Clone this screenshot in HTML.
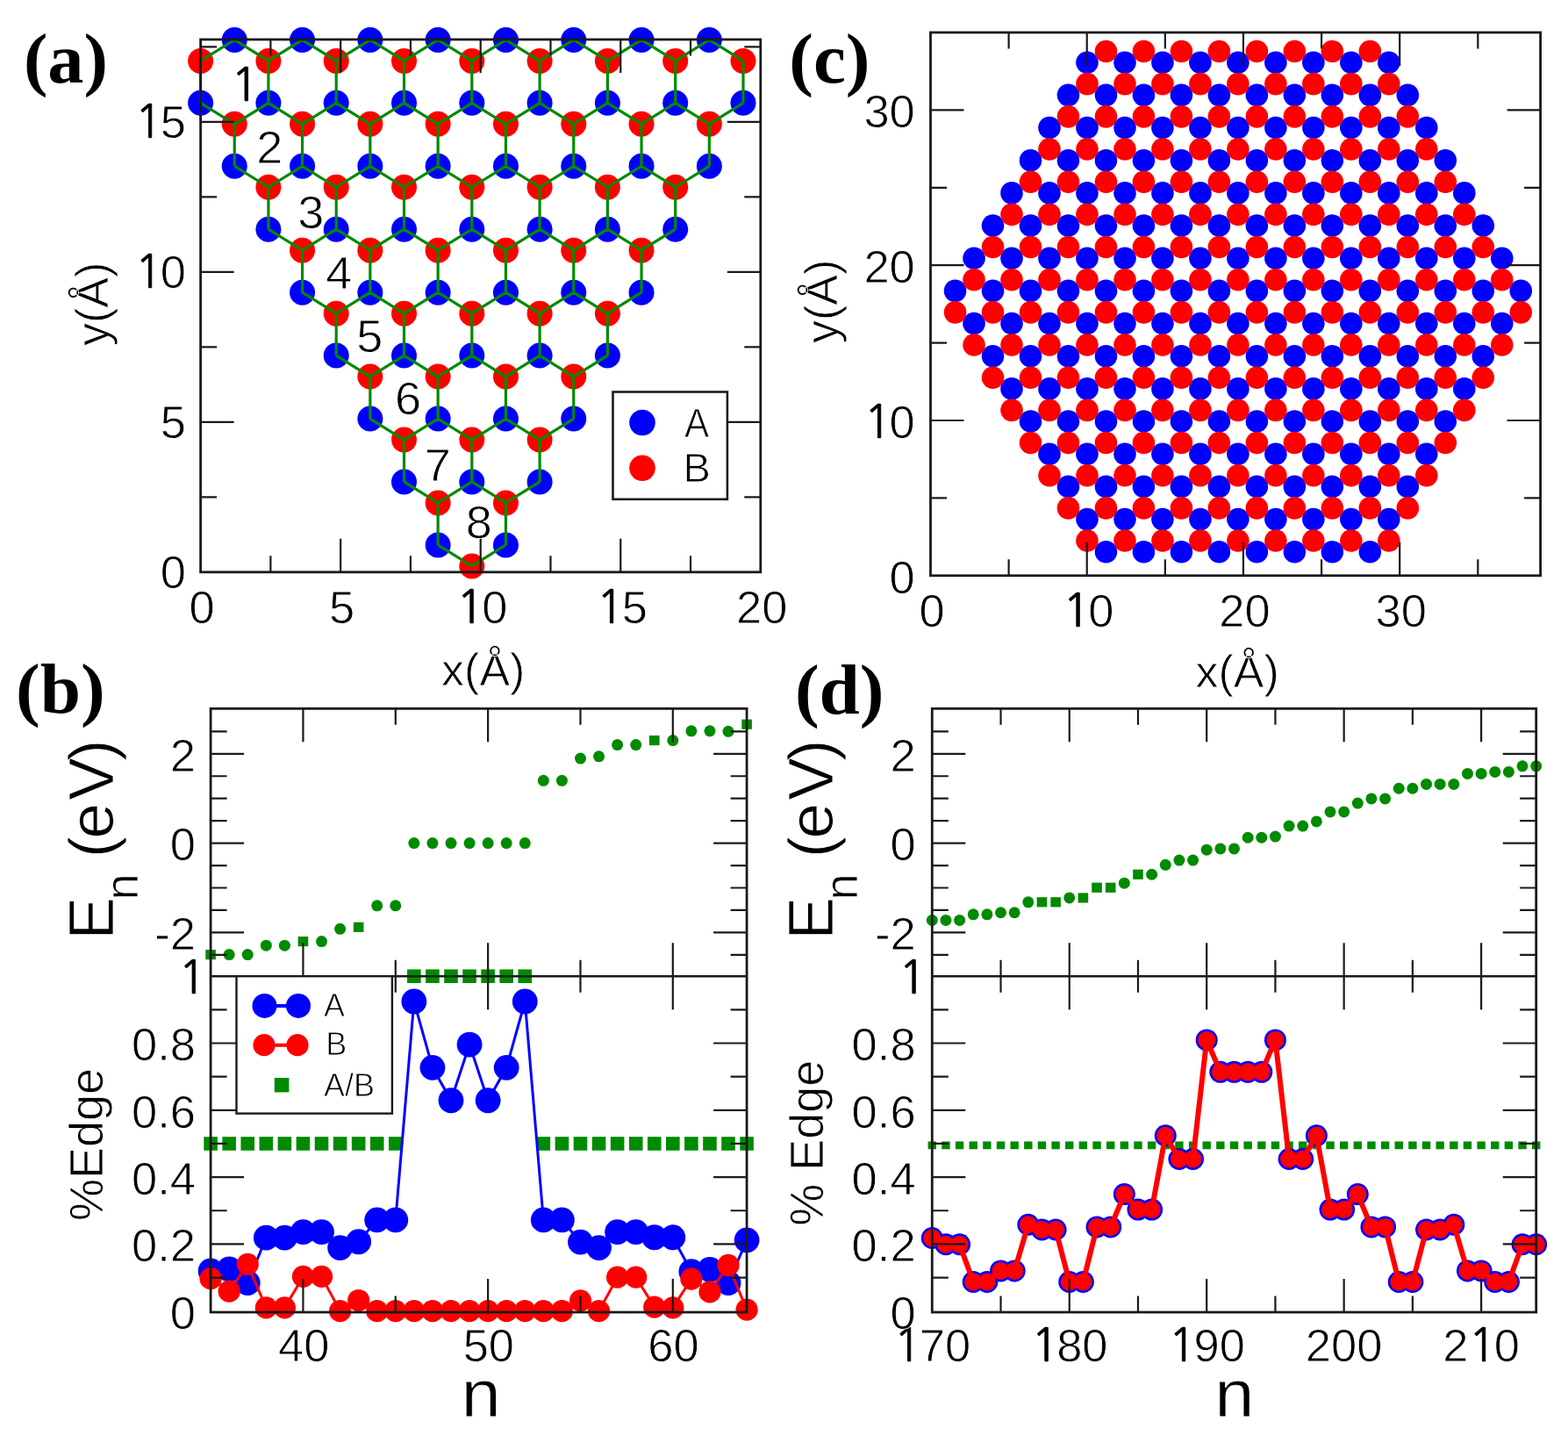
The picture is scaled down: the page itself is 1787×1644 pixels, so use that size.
<!DOCTYPE html>
<html><head><meta charset="utf-8"><title>Figure</title>
<style>html,body{margin:0;padding:0;background:#fff;}svg{display:block;}</style></head>
<body><svg width="1787" height="1644" viewBox="0 0 1787 1644">
<rect width="1787" height="1644" fill="#fff"/>
<circle cx="267.25" cy="45.4" r="14.5" fill="#0000ff"/>
<circle cx="344.55" cy="45.4" r="14.5" fill="#0000ff"/>
<circle cx="421.85" cy="45.4" r="14.5" fill="#0000ff"/>
<circle cx="499.15" cy="45.4" r="14.5" fill="#0000ff"/>
<circle cx="576.45" cy="45.4" r="14.5" fill="#0000ff"/>
<circle cx="653.75" cy="45.4" r="14.5" fill="#0000ff"/>
<circle cx="731.05" cy="45.4" r="14.5" fill="#0000ff"/>
<circle cx="808.35" cy="45.4" r="14.5" fill="#0000ff"/>
<circle cx="228.6" cy="117.34" r="14.5" fill="#0000ff"/>
<circle cx="305.9" cy="117.34" r="14.5" fill="#0000ff"/>
<circle cx="383.2" cy="117.34" r="14.5" fill="#0000ff"/>
<circle cx="460.5" cy="117.34" r="14.5" fill="#0000ff"/>
<circle cx="537.8" cy="117.34" r="14.5" fill="#0000ff"/>
<circle cx="615.1" cy="117.34" r="14.5" fill="#0000ff"/>
<circle cx="692.4" cy="117.34" r="14.5" fill="#0000ff"/>
<circle cx="769.7" cy="117.34" r="14.5" fill="#0000ff"/>
<circle cx="847" cy="117.34" r="14.5" fill="#0000ff"/>
<circle cx="267.25" cy="189.28" r="14.5" fill="#0000ff"/>
<circle cx="344.55" cy="189.28" r="14.5" fill="#0000ff"/>
<circle cx="421.85" cy="189.28" r="14.5" fill="#0000ff"/>
<circle cx="499.15" cy="189.28" r="14.5" fill="#0000ff"/>
<circle cx="576.45" cy="189.28" r="14.5" fill="#0000ff"/>
<circle cx="653.75" cy="189.28" r="14.5" fill="#0000ff"/>
<circle cx="731.05" cy="189.28" r="14.5" fill="#0000ff"/>
<circle cx="808.35" cy="189.28" r="14.5" fill="#0000ff"/>
<circle cx="305.9" cy="261.22" r="14.5" fill="#0000ff"/>
<circle cx="383.2" cy="261.22" r="14.5" fill="#0000ff"/>
<circle cx="460.5" cy="261.22" r="14.5" fill="#0000ff"/>
<circle cx="537.8" cy="261.22" r="14.5" fill="#0000ff"/>
<circle cx="615.1" cy="261.22" r="14.5" fill="#0000ff"/>
<circle cx="692.4" cy="261.22" r="14.5" fill="#0000ff"/>
<circle cx="769.7" cy="261.22" r="14.5" fill="#0000ff"/>
<circle cx="344.55" cy="333.16" r="14.5" fill="#0000ff"/>
<circle cx="421.85" cy="333.16" r="14.5" fill="#0000ff"/>
<circle cx="499.15" cy="333.16" r="14.5" fill="#0000ff"/>
<circle cx="576.45" cy="333.16" r="14.5" fill="#0000ff"/>
<circle cx="653.75" cy="333.16" r="14.5" fill="#0000ff"/>
<circle cx="731.05" cy="333.16" r="14.5" fill="#0000ff"/>
<circle cx="383.2" cy="405.1" r="14.5" fill="#0000ff"/>
<circle cx="460.5" cy="405.1" r="14.5" fill="#0000ff"/>
<circle cx="537.8" cy="405.1" r="14.5" fill="#0000ff"/>
<circle cx="615.1" cy="405.1" r="14.5" fill="#0000ff"/>
<circle cx="692.4" cy="405.1" r="14.5" fill="#0000ff"/>
<circle cx="421.85" cy="477.04" r="14.5" fill="#0000ff"/>
<circle cx="499.15" cy="477.04" r="14.5" fill="#0000ff"/>
<circle cx="576.45" cy="477.04" r="14.5" fill="#0000ff"/>
<circle cx="653.75" cy="477.04" r="14.5" fill="#0000ff"/>
<circle cx="460.5" cy="548.98" r="14.5" fill="#0000ff"/>
<circle cx="537.8" cy="548.98" r="14.5" fill="#0000ff"/>
<circle cx="615.1" cy="548.98" r="14.5" fill="#0000ff"/>
<circle cx="499.15" cy="620.92" r="14.5" fill="#0000ff"/>
<circle cx="576.45" cy="620.92" r="14.5" fill="#0000ff"/>
<circle cx="228.6" cy="69.38" r="14.5" fill="#ff0000"/>
<circle cx="305.9" cy="69.38" r="14.5" fill="#ff0000"/>
<circle cx="383.2" cy="69.38" r="14.5" fill="#ff0000"/>
<circle cx="460.5" cy="69.38" r="14.5" fill="#ff0000"/>
<circle cx="537.8" cy="69.38" r="14.5" fill="#ff0000"/>
<circle cx="615.1" cy="69.38" r="14.5" fill="#ff0000"/>
<circle cx="692.4" cy="69.38" r="14.5" fill="#ff0000"/>
<circle cx="769.7" cy="69.38" r="14.5" fill="#ff0000"/>
<circle cx="847" cy="69.38" r="14.5" fill="#ff0000"/>
<circle cx="267.25" cy="141.32" r="14.5" fill="#ff0000"/>
<circle cx="344.55" cy="141.32" r="14.5" fill="#ff0000"/>
<circle cx="421.85" cy="141.32" r="14.5" fill="#ff0000"/>
<circle cx="499.15" cy="141.32" r="14.5" fill="#ff0000"/>
<circle cx="576.45" cy="141.32" r="14.5" fill="#ff0000"/>
<circle cx="653.75" cy="141.32" r="14.5" fill="#ff0000"/>
<circle cx="731.05" cy="141.32" r="14.5" fill="#ff0000"/>
<circle cx="808.35" cy="141.32" r="14.5" fill="#ff0000"/>
<circle cx="305.9" cy="213.26" r="14.5" fill="#ff0000"/>
<circle cx="383.2" cy="213.26" r="14.5" fill="#ff0000"/>
<circle cx="460.5" cy="213.26" r="14.5" fill="#ff0000"/>
<circle cx="537.8" cy="213.26" r="14.5" fill="#ff0000"/>
<circle cx="615.1" cy="213.26" r="14.5" fill="#ff0000"/>
<circle cx="692.4" cy="213.26" r="14.5" fill="#ff0000"/>
<circle cx="769.7" cy="213.26" r="14.5" fill="#ff0000"/>
<circle cx="344.55" cy="285.2" r="14.5" fill="#ff0000"/>
<circle cx="421.85" cy="285.2" r="14.5" fill="#ff0000"/>
<circle cx="499.15" cy="285.2" r="14.5" fill="#ff0000"/>
<circle cx="576.45" cy="285.2" r="14.5" fill="#ff0000"/>
<circle cx="653.75" cy="285.2" r="14.5" fill="#ff0000"/>
<circle cx="731.05" cy="285.2" r="14.5" fill="#ff0000"/>
<circle cx="383.2" cy="357.14" r="14.5" fill="#ff0000"/>
<circle cx="460.5" cy="357.14" r="14.5" fill="#ff0000"/>
<circle cx="537.8" cy="357.14" r="14.5" fill="#ff0000"/>
<circle cx="615.1" cy="357.14" r="14.5" fill="#ff0000"/>
<circle cx="692.4" cy="357.14" r="14.5" fill="#ff0000"/>
<circle cx="421.85" cy="429.08" r="14.5" fill="#ff0000"/>
<circle cx="499.15" cy="429.08" r="14.5" fill="#ff0000"/>
<circle cx="576.45" cy="429.08" r="14.5" fill="#ff0000"/>
<circle cx="653.75" cy="429.08" r="14.5" fill="#ff0000"/>
<circle cx="460.5" cy="501.02" r="14.5" fill="#ff0000"/>
<circle cx="537.8" cy="501.02" r="14.5" fill="#ff0000"/>
<circle cx="615.1" cy="501.02" r="14.5" fill="#ff0000"/>
<circle cx="499.15" cy="572.96" r="14.5" fill="#ff0000"/>
<circle cx="576.45" cy="572.96" r="14.5" fill="#ff0000"/>
<circle cx="537.8" cy="644.9" r="14.5" fill="#ff0000"/>
<path d="M267.25 45.4L228.6 69.38M267.25 45.4L305.9 69.38M344.55 45.4L305.9 69.38M344.55 45.4L383.2 69.38M421.85 45.4L383.2 69.38M421.85 45.4L460.5 69.38M499.15 45.4L460.5 69.38M499.15 45.4L537.8 69.38M576.45 45.4L537.8 69.38M576.45 45.4L615.1 69.38M653.75 45.4L615.1 69.38M653.75 45.4L692.4 69.38M731.05 45.4L692.4 69.38M731.05 45.4L769.7 69.38M808.35 45.4L769.7 69.38M808.35 45.4L847 69.38M228.6 69.38V117.34M305.9 69.38V117.34M383.2 69.38V117.34M460.5 69.38V117.34M537.8 69.38V117.34M615.1 69.38V117.34M692.4 69.38V117.34M769.7 69.38V117.34M847 69.38V117.34M228.6 117.34L267.25 141.32M305.9 117.34L267.25 141.32M305.9 117.34L344.55 141.32M383.2 117.34L344.55 141.32M383.2 117.34L421.85 141.32M460.5 117.34L421.85 141.32M460.5 117.34L499.15 141.32M537.8 117.34L499.15 141.32M537.8 117.34L576.45 141.32M615.1 117.34L576.45 141.32M615.1 117.34L653.75 141.32M692.4 117.34L653.75 141.32M692.4 117.34L731.05 141.32M769.7 117.34L731.05 141.32M769.7 117.34L808.35 141.32M847 117.34L808.35 141.32M267.25 141.32V189.28M344.55 141.32V189.28M421.85 141.32V189.28M499.15 141.32V189.28M576.45 141.32V189.28M653.75 141.32V189.28M731.05 141.32V189.28M808.35 141.32V189.28M267.25 189.28L305.9 213.26M344.55 189.28L305.9 213.26M344.55 189.28L383.2 213.26M421.85 189.28L383.2 213.26M421.85 189.28L460.5 213.26M499.15 189.28L460.5 213.26M499.15 189.28L537.8 213.26M576.45 189.28L537.8 213.26M576.45 189.28L615.1 213.26M653.75 189.28L615.1 213.26M653.75 189.28L692.4 213.26M731.05 189.28L692.4 213.26M731.05 189.28L769.7 213.26M808.35 189.28L769.7 213.26M305.9 213.26V261.22M383.2 213.26V261.22M460.5 213.26V261.22M537.8 213.26V261.22M615.1 213.26V261.22M692.4 213.26V261.22M769.7 213.26V261.22M305.9 261.22L344.55 285.2M383.2 261.22L344.55 285.2M383.2 261.22L421.85 285.2M460.5 261.22L421.85 285.2M460.5 261.22L499.15 285.2M537.8 261.22L499.15 285.2M537.8 261.22L576.45 285.2M615.1 261.22L576.45 285.2M615.1 261.22L653.75 285.2M692.4 261.22L653.75 285.2M692.4 261.22L731.05 285.2M769.7 261.22L731.05 285.2M344.55 285.2V333.16M421.85 285.2V333.16M499.15 285.2V333.16M576.45 285.2V333.16M653.75 285.2V333.16M731.05 285.2V333.16M344.55 333.16L383.2 357.14M421.85 333.16L383.2 357.14M421.85 333.16L460.5 357.14M499.15 333.16L460.5 357.14M499.15 333.16L537.8 357.14M576.45 333.16L537.8 357.14M576.45 333.16L615.1 357.14M653.75 333.16L615.1 357.14M653.75 333.16L692.4 357.14M731.05 333.16L692.4 357.14M383.2 357.14V405.1M460.5 357.14V405.1M537.8 357.14V405.1M615.1 357.14V405.1M692.4 357.14V405.1M383.2 405.1L421.85 429.08M460.5 405.1L421.85 429.08M460.5 405.1L499.15 429.08M537.8 405.1L499.15 429.08M537.8 405.1L576.45 429.08M615.1 405.1L576.45 429.08M615.1 405.1L653.75 429.08M692.4 405.1L653.75 429.08M421.85 429.08V477.04M499.15 429.08V477.04M576.45 429.08V477.04M653.75 429.08V477.04M421.85 477.04L460.5 501.02M499.15 477.04L460.5 501.02M499.15 477.04L537.8 501.02M576.45 477.04L537.8 501.02M576.45 477.04L615.1 501.02M653.75 477.04L615.1 501.02M460.5 501.02V548.98M537.8 501.02V548.98M615.1 501.02V548.98M460.5 548.98L499.15 572.96M537.8 548.98L499.15 572.96M537.8 548.98L576.45 572.96M615.1 548.98L576.45 572.96M499.15 572.96V620.92M576.45 572.96V620.92M499.15 620.92L537.8 644.9M576.45 620.92L537.8 644.9" stroke="#008b00" stroke-width="3.2" fill="none" stroke-linejoin="round"/>
<text transform="translate(277.7 114.9) scale(1.04 1)" font-size="52" text-anchor="middle" font-family="'Liberation Sans', Arial, Helvetica, sans-serif" stroke="#fff" stroke-width="0.8" ><tspan font-family="NanumGothic, 'Liberation Sans', sans-serif" letter-spacing="-2.6" stroke="#000" stroke-width="0.7">1</tspan></text>
<text transform="translate(307.2 186.4) scale(1.04 1)" font-size="52" text-anchor="middle" font-family="'Liberation Sans', Arial, Helvetica, sans-serif" stroke="#fff" stroke-width="0.8" >2</text>
<text transform="translate(354.3 260.2) scale(1.04 1)" font-size="52" text-anchor="middle" font-family="'Liberation Sans', Arial, Helvetica, sans-serif" stroke="#fff" stroke-width="0.8" >3</text>
<text transform="translate(386.2 329.3) scale(1.04 1)" font-size="52" text-anchor="middle" font-family="'Liberation Sans', Arial, Helvetica, sans-serif" stroke="#fff" stroke-width="0.8" >4</text>
<text transform="translate(421.2 401.2) scale(1.04 1)" font-size="52" text-anchor="middle" font-family="'Liberation Sans', Arial, Helvetica, sans-serif" stroke="#fff" stroke-width="0.8" >5</text>
<text transform="translate(465 471.8) scale(1.04 1)" font-size="52" text-anchor="middle" font-family="'Liberation Sans', Arial, Helvetica, sans-serif" stroke="#fff" stroke-width="0.8" >6</text>
<text transform="translate(498.8 547.9) scale(1.04 1)" font-size="52" text-anchor="middle" font-family="'Liberation Sans', Arial, Helvetica, sans-serif" stroke="#fff" stroke-width="0.8" >7</text>
<text transform="translate(545.9 613.4) scale(1.04 1)" font-size="52" text-anchor="middle" font-family="'Liberation Sans', Arial, Helvetica, sans-serif" stroke="#fff" stroke-width="0.8" >8</text>
<rect x="228.6" y="45" width="638.2" height="606.8" stroke="#1a1a1a" stroke-width="2.8" fill="none"/>
<path d="M308.38 651.8V633.3M308.38 45V63.5M388.15 651.8V613.8M388.15 45V83M467.92 651.8V633.3M467.92 45V63.5M547.7 651.8V613.8M547.7 45V83M627.47 651.8V633.3M627.47 45V63.5M707.25 651.8V613.8M707.25 45V83M787.02 651.8V633.3M787.02 45V63.5" stroke="#1a1a1a" stroke-width="2.2"/>
<path d="M228.6 566.3H247.1M866.8 566.3H848.3M228.6 480.8H266.6M866.8 480.8H828.8M228.6 395.3H247.1M866.8 395.3H848.3M228.6 309.8H266.6M866.8 309.8H828.8M228.6 224.3H247.1M866.8 224.3H848.3M228.6 138.8H266.6M866.8 138.8H828.8M228.6 53.3H247.1M866.8 53.3H848.3" stroke="#1a1a1a" stroke-width="2.2"/>
<rect x="698.5" y="446.5" width="130.4" height="122.3" fill="#fff" stroke="#1a1a1a" stroke-width="2.6"/>
<circle cx="732" cy="481.5" r="14.8" fill="#0000ff"/>
<circle cx="732" cy="533.3" r="14.8" fill="#ff0000"/>
<text transform="translate(780 497.5) scale(0.9 1)" font-size="47" text-anchor="start" font-family="'Liberation Sans', Arial, Helvetica, sans-serif" stroke="#fff" stroke-width="0.8" >A</text>
<text transform="translate(778.5 549)" font-size="47" text-anchor="start" font-family="'Liberation Sans', Arial, Helvetica, sans-serif" stroke="#fff" stroke-width="0.8" >B</text>
<text transform="translate(230.1 709.5)" font-size="52.5" text-anchor="middle" font-family="'Liberation Sans', Arial, Helvetica, sans-serif" stroke="#fff" stroke-width="0.8" >0</text>
<text transform="translate(389.65 709.5)" font-size="52.5" text-anchor="middle" font-family="'Liberation Sans', Arial, Helvetica, sans-serif" stroke="#fff" stroke-width="0.8" >5</text>
<text transform="translate(549.2 709.5)" font-size="52.5" text-anchor="middle" font-family="'Liberation Sans', Arial, Helvetica, sans-serif" stroke="#fff" stroke-width="0.8" ><tspan font-family="NanumGothic, 'Liberation Sans', sans-serif" letter-spacing="-2.62" stroke="#000" stroke-width="0.7">1</tspan>0</text>
<text transform="translate(708.75 709.5)" font-size="52.5" text-anchor="middle" font-family="'Liberation Sans', Arial, Helvetica, sans-serif" stroke="#fff" stroke-width="0.8" ><tspan font-family="NanumGothic, 'Liberation Sans', sans-serif" letter-spacing="-2.62" stroke="#000" stroke-width="0.7">1</tspan>5</text>
<text transform="translate(868.3 709.5)" font-size="52.5" text-anchor="middle" font-family="'Liberation Sans', Arial, Helvetica, sans-serif" stroke="#fff" stroke-width="0.8" >20</text>
<text transform="translate(212 670.1)" font-size="52.5" text-anchor="end" font-family="'Liberation Sans', Arial, Helvetica, sans-serif" stroke="#fff" stroke-width="0.8" >0</text>
<text transform="translate(212 499.1)" font-size="52.5" text-anchor="end" font-family="'Liberation Sans', Arial, Helvetica, sans-serif" stroke="#fff" stroke-width="0.8" >5</text>
<text transform="translate(212 328.1)" font-size="52.5" text-anchor="end" font-family="'Liberation Sans', Arial, Helvetica, sans-serif" stroke="#fff" stroke-width="0.8" ><tspan font-family="NanumGothic, 'Liberation Sans', sans-serif" letter-spacing="-2.62" stroke="#000" stroke-width="0.7">1</tspan>0</text>
<text transform="translate(212 157.1)" font-size="52.5" text-anchor="end" font-family="'Liberation Sans', Arial, Helvetica, sans-serif" stroke="#fff" stroke-width="0.8" ><tspan font-family="NanumGothic, 'Liberation Sans', sans-serif" letter-spacing="-2.62" stroke="#000" stroke-width="0.7">1</tspan>5</text>
<text transform="translate(503.1 780.9)" font-size="52" text-anchor="start" font-family="'Liberation Sans', Arial, Helvetica, sans-serif" stroke="#fff" stroke-width="0.8" >x(Å)</text>
<text transform="translate(123.1 394) rotate(-90)" font-size="52" text-anchor="start" font-family="'Liberation Sans', Arial, Helvetica, sans-serif" stroke="#fff" stroke-width="0.8" >y(Å)</text>
<circle cx="1238.98" cy="71.2" r="12.8" fill="#0000ff"/>
<circle cx="1281.96" cy="71.2" r="12.8" fill="#0000ff"/>
<circle cx="1324.94" cy="71.2" r="12.8" fill="#0000ff"/>
<circle cx="1367.92" cy="71.2" r="12.8" fill="#0000ff"/>
<circle cx="1410.9" cy="71.2" r="12.8" fill="#0000ff"/>
<circle cx="1453.88" cy="71.2" r="12.8" fill="#0000ff"/>
<circle cx="1496.86" cy="71.2" r="12.8" fill="#0000ff"/>
<circle cx="1539.84" cy="71.2" r="12.8" fill="#0000ff"/>
<circle cx="1582.82" cy="71.2" r="12.8" fill="#0000ff"/>
<circle cx="1217.49" cy="108.37" r="12.8" fill="#0000ff"/>
<circle cx="1260.47" cy="108.37" r="12.8" fill="#0000ff"/>
<circle cx="1303.45" cy="108.37" r="12.8" fill="#0000ff"/>
<circle cx="1346.43" cy="108.37" r="12.8" fill="#0000ff"/>
<circle cx="1389.41" cy="108.37" r="12.8" fill="#0000ff"/>
<circle cx="1432.39" cy="108.37" r="12.8" fill="#0000ff"/>
<circle cx="1475.37" cy="108.37" r="12.8" fill="#0000ff"/>
<circle cx="1518.35" cy="108.37" r="12.8" fill="#0000ff"/>
<circle cx="1561.33" cy="108.37" r="12.8" fill="#0000ff"/>
<circle cx="1604.31" cy="108.37" r="12.8" fill="#0000ff"/>
<circle cx="1196" cy="145.54" r="12.8" fill="#0000ff"/>
<circle cx="1238.98" cy="145.54" r="12.8" fill="#0000ff"/>
<circle cx="1281.96" cy="145.54" r="12.8" fill="#0000ff"/>
<circle cx="1324.94" cy="145.54" r="12.8" fill="#0000ff"/>
<circle cx="1367.92" cy="145.54" r="12.8" fill="#0000ff"/>
<circle cx="1410.9" cy="145.54" r="12.8" fill="#0000ff"/>
<circle cx="1453.88" cy="145.54" r="12.8" fill="#0000ff"/>
<circle cx="1496.86" cy="145.54" r="12.8" fill="#0000ff"/>
<circle cx="1539.84" cy="145.54" r="12.8" fill="#0000ff"/>
<circle cx="1582.82" cy="145.54" r="12.8" fill="#0000ff"/>
<circle cx="1625.8" cy="145.54" r="12.8" fill="#0000ff"/>
<circle cx="1174.51" cy="182.71" r="12.8" fill="#0000ff"/>
<circle cx="1217.49" cy="182.71" r="12.8" fill="#0000ff"/>
<circle cx="1260.47" cy="182.71" r="12.8" fill="#0000ff"/>
<circle cx="1303.45" cy="182.71" r="12.8" fill="#0000ff"/>
<circle cx="1346.43" cy="182.71" r="12.8" fill="#0000ff"/>
<circle cx="1389.41" cy="182.71" r="12.8" fill="#0000ff"/>
<circle cx="1432.39" cy="182.71" r="12.8" fill="#0000ff"/>
<circle cx="1475.37" cy="182.71" r="12.8" fill="#0000ff"/>
<circle cx="1518.35" cy="182.71" r="12.8" fill="#0000ff"/>
<circle cx="1561.33" cy="182.71" r="12.8" fill="#0000ff"/>
<circle cx="1604.31" cy="182.71" r="12.8" fill="#0000ff"/>
<circle cx="1647.29" cy="182.71" r="12.8" fill="#0000ff"/>
<circle cx="1153.02" cy="219.88" r="12.8" fill="#0000ff"/>
<circle cx="1196" cy="219.88" r="12.8" fill="#0000ff"/>
<circle cx="1238.98" cy="219.88" r="12.8" fill="#0000ff"/>
<circle cx="1281.96" cy="219.88" r="12.8" fill="#0000ff"/>
<circle cx="1324.94" cy="219.88" r="12.8" fill="#0000ff"/>
<circle cx="1367.92" cy="219.88" r="12.8" fill="#0000ff"/>
<circle cx="1410.9" cy="219.88" r="12.8" fill="#0000ff"/>
<circle cx="1453.88" cy="219.88" r="12.8" fill="#0000ff"/>
<circle cx="1496.86" cy="219.88" r="12.8" fill="#0000ff"/>
<circle cx="1539.84" cy="219.88" r="12.8" fill="#0000ff"/>
<circle cx="1582.82" cy="219.88" r="12.8" fill="#0000ff"/>
<circle cx="1625.8" cy="219.88" r="12.8" fill="#0000ff"/>
<circle cx="1668.78" cy="219.88" r="12.8" fill="#0000ff"/>
<circle cx="1131.53" cy="257.05" r="12.8" fill="#0000ff"/>
<circle cx="1174.51" cy="257.05" r="12.8" fill="#0000ff"/>
<circle cx="1217.49" cy="257.05" r="12.8" fill="#0000ff"/>
<circle cx="1260.47" cy="257.05" r="12.8" fill="#0000ff"/>
<circle cx="1303.45" cy="257.05" r="12.8" fill="#0000ff"/>
<circle cx="1346.43" cy="257.05" r="12.8" fill="#0000ff"/>
<circle cx="1389.41" cy="257.05" r="12.8" fill="#0000ff"/>
<circle cx="1432.39" cy="257.05" r="12.8" fill="#0000ff"/>
<circle cx="1475.37" cy="257.05" r="12.8" fill="#0000ff"/>
<circle cx="1518.35" cy="257.05" r="12.8" fill="#0000ff"/>
<circle cx="1561.33" cy="257.05" r="12.8" fill="#0000ff"/>
<circle cx="1604.31" cy="257.05" r="12.8" fill="#0000ff"/>
<circle cx="1647.29" cy="257.05" r="12.8" fill="#0000ff"/>
<circle cx="1690.27" cy="257.05" r="12.8" fill="#0000ff"/>
<circle cx="1110.04" cy="294.22" r="12.8" fill="#0000ff"/>
<circle cx="1153.02" cy="294.22" r="12.8" fill="#0000ff"/>
<circle cx="1196" cy="294.22" r="12.8" fill="#0000ff"/>
<circle cx="1238.98" cy="294.22" r="12.8" fill="#0000ff"/>
<circle cx="1281.96" cy="294.22" r="12.8" fill="#0000ff"/>
<circle cx="1324.94" cy="294.22" r="12.8" fill="#0000ff"/>
<circle cx="1367.92" cy="294.22" r="12.8" fill="#0000ff"/>
<circle cx="1410.9" cy="294.22" r="12.8" fill="#0000ff"/>
<circle cx="1453.88" cy="294.22" r="12.8" fill="#0000ff"/>
<circle cx="1496.86" cy="294.22" r="12.8" fill="#0000ff"/>
<circle cx="1539.84" cy="294.22" r="12.8" fill="#0000ff"/>
<circle cx="1582.82" cy="294.22" r="12.8" fill="#0000ff"/>
<circle cx="1625.8" cy="294.22" r="12.8" fill="#0000ff"/>
<circle cx="1668.78" cy="294.22" r="12.8" fill="#0000ff"/>
<circle cx="1711.76" cy="294.22" r="12.8" fill="#0000ff"/>
<circle cx="1088.55" cy="331.39" r="12.8" fill="#0000ff"/>
<circle cx="1131.53" cy="331.39" r="12.8" fill="#0000ff"/>
<circle cx="1174.51" cy="331.39" r="12.8" fill="#0000ff"/>
<circle cx="1217.49" cy="331.39" r="12.8" fill="#0000ff"/>
<circle cx="1260.47" cy="331.39" r="12.8" fill="#0000ff"/>
<circle cx="1303.45" cy="331.39" r="12.8" fill="#0000ff"/>
<circle cx="1346.43" cy="331.39" r="12.8" fill="#0000ff"/>
<circle cx="1389.41" cy="331.39" r="12.8" fill="#0000ff"/>
<circle cx="1432.39" cy="331.39" r="12.8" fill="#0000ff"/>
<circle cx="1475.37" cy="331.39" r="12.8" fill="#0000ff"/>
<circle cx="1518.35" cy="331.39" r="12.8" fill="#0000ff"/>
<circle cx="1561.33" cy="331.39" r="12.8" fill="#0000ff"/>
<circle cx="1604.31" cy="331.39" r="12.8" fill="#0000ff"/>
<circle cx="1647.29" cy="331.39" r="12.8" fill="#0000ff"/>
<circle cx="1690.27" cy="331.39" r="12.8" fill="#0000ff"/>
<circle cx="1733.25" cy="331.39" r="12.8" fill="#0000ff"/>
<circle cx="1110.04" cy="368.56" r="12.8" fill="#0000ff"/>
<circle cx="1153.02" cy="368.56" r="12.8" fill="#0000ff"/>
<circle cx="1196" cy="368.56" r="12.8" fill="#0000ff"/>
<circle cx="1238.98" cy="368.56" r="12.8" fill="#0000ff"/>
<circle cx="1281.96" cy="368.56" r="12.8" fill="#0000ff"/>
<circle cx="1324.94" cy="368.56" r="12.8" fill="#0000ff"/>
<circle cx="1367.92" cy="368.56" r="12.8" fill="#0000ff"/>
<circle cx="1410.9" cy="368.56" r="12.8" fill="#0000ff"/>
<circle cx="1453.88" cy="368.56" r="12.8" fill="#0000ff"/>
<circle cx="1496.86" cy="368.56" r="12.8" fill="#0000ff"/>
<circle cx="1539.84" cy="368.56" r="12.8" fill="#0000ff"/>
<circle cx="1582.82" cy="368.56" r="12.8" fill="#0000ff"/>
<circle cx="1625.8" cy="368.56" r="12.8" fill="#0000ff"/>
<circle cx="1668.78" cy="368.56" r="12.8" fill="#0000ff"/>
<circle cx="1711.76" cy="368.56" r="12.8" fill="#0000ff"/>
<circle cx="1131.53" cy="405.73" r="12.8" fill="#0000ff"/>
<circle cx="1174.51" cy="405.73" r="12.8" fill="#0000ff"/>
<circle cx="1217.49" cy="405.73" r="12.8" fill="#0000ff"/>
<circle cx="1260.47" cy="405.73" r="12.8" fill="#0000ff"/>
<circle cx="1303.45" cy="405.73" r="12.8" fill="#0000ff"/>
<circle cx="1346.43" cy="405.73" r="12.8" fill="#0000ff"/>
<circle cx="1389.41" cy="405.73" r="12.8" fill="#0000ff"/>
<circle cx="1432.39" cy="405.73" r="12.8" fill="#0000ff"/>
<circle cx="1475.37" cy="405.73" r="12.8" fill="#0000ff"/>
<circle cx="1518.35" cy="405.73" r="12.8" fill="#0000ff"/>
<circle cx="1561.33" cy="405.73" r="12.8" fill="#0000ff"/>
<circle cx="1604.31" cy="405.73" r="12.8" fill="#0000ff"/>
<circle cx="1647.29" cy="405.73" r="12.8" fill="#0000ff"/>
<circle cx="1690.27" cy="405.73" r="12.8" fill="#0000ff"/>
<circle cx="1153.02" cy="442.9" r="12.8" fill="#0000ff"/>
<circle cx="1196" cy="442.9" r="12.8" fill="#0000ff"/>
<circle cx="1238.98" cy="442.9" r="12.8" fill="#0000ff"/>
<circle cx="1281.96" cy="442.9" r="12.8" fill="#0000ff"/>
<circle cx="1324.94" cy="442.9" r="12.8" fill="#0000ff"/>
<circle cx="1367.92" cy="442.9" r="12.8" fill="#0000ff"/>
<circle cx="1410.9" cy="442.9" r="12.8" fill="#0000ff"/>
<circle cx="1453.88" cy="442.9" r="12.8" fill="#0000ff"/>
<circle cx="1496.86" cy="442.9" r="12.8" fill="#0000ff"/>
<circle cx="1539.84" cy="442.9" r="12.8" fill="#0000ff"/>
<circle cx="1582.82" cy="442.9" r="12.8" fill="#0000ff"/>
<circle cx="1625.8" cy="442.9" r="12.8" fill="#0000ff"/>
<circle cx="1668.78" cy="442.9" r="12.8" fill="#0000ff"/>
<circle cx="1174.51" cy="480.07" r="12.8" fill="#0000ff"/>
<circle cx="1217.49" cy="480.07" r="12.8" fill="#0000ff"/>
<circle cx="1260.47" cy="480.07" r="12.8" fill="#0000ff"/>
<circle cx="1303.45" cy="480.07" r="12.8" fill="#0000ff"/>
<circle cx="1346.43" cy="480.07" r="12.8" fill="#0000ff"/>
<circle cx="1389.41" cy="480.07" r="12.8" fill="#0000ff"/>
<circle cx="1432.39" cy="480.07" r="12.8" fill="#0000ff"/>
<circle cx="1475.37" cy="480.07" r="12.8" fill="#0000ff"/>
<circle cx="1518.35" cy="480.07" r="12.8" fill="#0000ff"/>
<circle cx="1561.33" cy="480.07" r="12.8" fill="#0000ff"/>
<circle cx="1604.31" cy="480.07" r="12.8" fill="#0000ff"/>
<circle cx="1647.29" cy="480.07" r="12.8" fill="#0000ff"/>
<circle cx="1196" cy="517.24" r="12.8" fill="#0000ff"/>
<circle cx="1238.98" cy="517.24" r="12.8" fill="#0000ff"/>
<circle cx="1281.96" cy="517.24" r="12.8" fill="#0000ff"/>
<circle cx="1324.94" cy="517.24" r="12.8" fill="#0000ff"/>
<circle cx="1367.92" cy="517.24" r="12.8" fill="#0000ff"/>
<circle cx="1410.9" cy="517.24" r="12.8" fill="#0000ff"/>
<circle cx="1453.88" cy="517.24" r="12.8" fill="#0000ff"/>
<circle cx="1496.86" cy="517.24" r="12.8" fill="#0000ff"/>
<circle cx="1539.84" cy="517.24" r="12.8" fill="#0000ff"/>
<circle cx="1582.82" cy="517.24" r="12.8" fill="#0000ff"/>
<circle cx="1625.8" cy="517.24" r="12.8" fill="#0000ff"/>
<circle cx="1217.49" cy="554.41" r="12.8" fill="#0000ff"/>
<circle cx="1260.47" cy="554.41" r="12.8" fill="#0000ff"/>
<circle cx="1303.45" cy="554.41" r="12.8" fill="#0000ff"/>
<circle cx="1346.43" cy="554.41" r="12.8" fill="#0000ff"/>
<circle cx="1389.41" cy="554.41" r="12.8" fill="#0000ff"/>
<circle cx="1432.39" cy="554.41" r="12.8" fill="#0000ff"/>
<circle cx="1475.37" cy="554.41" r="12.8" fill="#0000ff"/>
<circle cx="1518.35" cy="554.41" r="12.8" fill="#0000ff"/>
<circle cx="1561.33" cy="554.41" r="12.8" fill="#0000ff"/>
<circle cx="1604.31" cy="554.41" r="12.8" fill="#0000ff"/>
<circle cx="1238.98" cy="591.58" r="12.8" fill="#0000ff"/>
<circle cx="1281.96" cy="591.58" r="12.8" fill="#0000ff"/>
<circle cx="1324.94" cy="591.58" r="12.8" fill="#0000ff"/>
<circle cx="1367.92" cy="591.58" r="12.8" fill="#0000ff"/>
<circle cx="1410.9" cy="591.58" r="12.8" fill="#0000ff"/>
<circle cx="1453.88" cy="591.58" r="12.8" fill="#0000ff"/>
<circle cx="1496.86" cy="591.58" r="12.8" fill="#0000ff"/>
<circle cx="1539.84" cy="591.58" r="12.8" fill="#0000ff"/>
<circle cx="1582.82" cy="591.58" r="12.8" fill="#0000ff"/>
<circle cx="1260.47" cy="628.75" r="12.8" fill="#0000ff"/>
<circle cx="1303.45" cy="628.75" r="12.8" fill="#0000ff"/>
<circle cx="1346.43" cy="628.75" r="12.8" fill="#0000ff"/>
<circle cx="1389.41" cy="628.75" r="12.8" fill="#0000ff"/>
<circle cx="1432.39" cy="628.75" r="12.8" fill="#0000ff"/>
<circle cx="1475.37" cy="628.75" r="12.8" fill="#0000ff"/>
<circle cx="1518.35" cy="628.75" r="12.8" fill="#0000ff"/>
<circle cx="1561.33" cy="628.75" r="12.8" fill="#0000ff"/>
<circle cx="1260.47" cy="58.5" r="12.8" fill="#ff0000"/>
<circle cx="1303.45" cy="58.5" r="12.8" fill="#ff0000"/>
<circle cx="1346.43" cy="58.5" r="12.8" fill="#ff0000"/>
<circle cx="1389.41" cy="58.5" r="12.8" fill="#ff0000"/>
<circle cx="1432.39" cy="58.5" r="12.8" fill="#ff0000"/>
<circle cx="1475.37" cy="58.5" r="12.8" fill="#ff0000"/>
<circle cx="1518.35" cy="58.5" r="12.8" fill="#ff0000"/>
<circle cx="1561.33" cy="58.5" r="12.8" fill="#ff0000"/>
<circle cx="1238.98" cy="95.67" r="12.8" fill="#ff0000"/>
<circle cx="1281.96" cy="95.67" r="12.8" fill="#ff0000"/>
<circle cx="1324.94" cy="95.67" r="12.8" fill="#ff0000"/>
<circle cx="1367.92" cy="95.67" r="12.8" fill="#ff0000"/>
<circle cx="1410.9" cy="95.67" r="12.8" fill="#ff0000"/>
<circle cx="1453.88" cy="95.67" r="12.8" fill="#ff0000"/>
<circle cx="1496.86" cy="95.67" r="12.8" fill="#ff0000"/>
<circle cx="1539.84" cy="95.67" r="12.8" fill="#ff0000"/>
<circle cx="1582.82" cy="95.67" r="12.8" fill="#ff0000"/>
<circle cx="1217.49" cy="132.84" r="12.8" fill="#ff0000"/>
<circle cx="1260.47" cy="132.84" r="12.8" fill="#ff0000"/>
<circle cx="1303.45" cy="132.84" r="12.8" fill="#ff0000"/>
<circle cx="1346.43" cy="132.84" r="12.8" fill="#ff0000"/>
<circle cx="1389.41" cy="132.84" r="12.8" fill="#ff0000"/>
<circle cx="1432.39" cy="132.84" r="12.8" fill="#ff0000"/>
<circle cx="1475.37" cy="132.84" r="12.8" fill="#ff0000"/>
<circle cx="1518.35" cy="132.84" r="12.8" fill="#ff0000"/>
<circle cx="1561.33" cy="132.84" r="12.8" fill="#ff0000"/>
<circle cx="1604.31" cy="132.84" r="12.8" fill="#ff0000"/>
<circle cx="1196" cy="170.01" r="12.8" fill="#ff0000"/>
<circle cx="1238.98" cy="170.01" r="12.8" fill="#ff0000"/>
<circle cx="1281.96" cy="170.01" r="12.8" fill="#ff0000"/>
<circle cx="1324.94" cy="170.01" r="12.8" fill="#ff0000"/>
<circle cx="1367.92" cy="170.01" r="12.8" fill="#ff0000"/>
<circle cx="1410.9" cy="170.01" r="12.8" fill="#ff0000"/>
<circle cx="1453.88" cy="170.01" r="12.8" fill="#ff0000"/>
<circle cx="1496.86" cy="170.01" r="12.8" fill="#ff0000"/>
<circle cx="1539.84" cy="170.01" r="12.8" fill="#ff0000"/>
<circle cx="1582.82" cy="170.01" r="12.8" fill="#ff0000"/>
<circle cx="1625.8" cy="170.01" r="12.8" fill="#ff0000"/>
<circle cx="1174.51" cy="207.18" r="12.8" fill="#ff0000"/>
<circle cx="1217.49" cy="207.18" r="12.8" fill="#ff0000"/>
<circle cx="1260.47" cy="207.18" r="12.8" fill="#ff0000"/>
<circle cx="1303.45" cy="207.18" r="12.8" fill="#ff0000"/>
<circle cx="1346.43" cy="207.18" r="12.8" fill="#ff0000"/>
<circle cx="1389.41" cy="207.18" r="12.8" fill="#ff0000"/>
<circle cx="1432.39" cy="207.18" r="12.8" fill="#ff0000"/>
<circle cx="1475.37" cy="207.18" r="12.8" fill="#ff0000"/>
<circle cx="1518.35" cy="207.18" r="12.8" fill="#ff0000"/>
<circle cx="1561.33" cy="207.18" r="12.8" fill="#ff0000"/>
<circle cx="1604.31" cy="207.18" r="12.8" fill="#ff0000"/>
<circle cx="1647.29" cy="207.18" r="12.8" fill="#ff0000"/>
<circle cx="1153.02" cy="244.35" r="12.8" fill="#ff0000"/>
<circle cx="1196" cy="244.35" r="12.8" fill="#ff0000"/>
<circle cx="1238.98" cy="244.35" r="12.8" fill="#ff0000"/>
<circle cx="1281.96" cy="244.35" r="12.8" fill="#ff0000"/>
<circle cx="1324.94" cy="244.35" r="12.8" fill="#ff0000"/>
<circle cx="1367.92" cy="244.35" r="12.8" fill="#ff0000"/>
<circle cx="1410.9" cy="244.35" r="12.8" fill="#ff0000"/>
<circle cx="1453.88" cy="244.35" r="12.8" fill="#ff0000"/>
<circle cx="1496.86" cy="244.35" r="12.8" fill="#ff0000"/>
<circle cx="1539.84" cy="244.35" r="12.8" fill="#ff0000"/>
<circle cx="1582.82" cy="244.35" r="12.8" fill="#ff0000"/>
<circle cx="1625.8" cy="244.35" r="12.8" fill="#ff0000"/>
<circle cx="1668.78" cy="244.35" r="12.8" fill="#ff0000"/>
<circle cx="1131.53" cy="281.52" r="12.8" fill="#ff0000"/>
<circle cx="1174.51" cy="281.52" r="12.8" fill="#ff0000"/>
<circle cx="1217.49" cy="281.52" r="12.8" fill="#ff0000"/>
<circle cx="1260.47" cy="281.52" r="12.8" fill="#ff0000"/>
<circle cx="1303.45" cy="281.52" r="12.8" fill="#ff0000"/>
<circle cx="1346.43" cy="281.52" r="12.8" fill="#ff0000"/>
<circle cx="1389.41" cy="281.52" r="12.8" fill="#ff0000"/>
<circle cx="1432.39" cy="281.52" r="12.8" fill="#ff0000"/>
<circle cx="1475.37" cy="281.52" r="12.8" fill="#ff0000"/>
<circle cx="1518.35" cy="281.52" r="12.8" fill="#ff0000"/>
<circle cx="1561.33" cy="281.52" r="12.8" fill="#ff0000"/>
<circle cx="1604.31" cy="281.52" r="12.8" fill="#ff0000"/>
<circle cx="1647.29" cy="281.52" r="12.8" fill="#ff0000"/>
<circle cx="1690.27" cy="281.52" r="12.8" fill="#ff0000"/>
<circle cx="1110.04" cy="318.69" r="12.8" fill="#ff0000"/>
<circle cx="1153.02" cy="318.69" r="12.8" fill="#ff0000"/>
<circle cx="1196" cy="318.69" r="12.8" fill="#ff0000"/>
<circle cx="1238.98" cy="318.69" r="12.8" fill="#ff0000"/>
<circle cx="1281.96" cy="318.69" r="12.8" fill="#ff0000"/>
<circle cx="1324.94" cy="318.69" r="12.8" fill="#ff0000"/>
<circle cx="1367.92" cy="318.69" r="12.8" fill="#ff0000"/>
<circle cx="1410.9" cy="318.69" r="12.8" fill="#ff0000"/>
<circle cx="1453.88" cy="318.69" r="12.8" fill="#ff0000"/>
<circle cx="1496.86" cy="318.69" r="12.8" fill="#ff0000"/>
<circle cx="1539.84" cy="318.69" r="12.8" fill="#ff0000"/>
<circle cx="1582.82" cy="318.69" r="12.8" fill="#ff0000"/>
<circle cx="1625.8" cy="318.69" r="12.8" fill="#ff0000"/>
<circle cx="1668.78" cy="318.69" r="12.8" fill="#ff0000"/>
<circle cx="1711.76" cy="318.69" r="12.8" fill="#ff0000"/>
<circle cx="1088.55" cy="355.86" r="12.8" fill="#ff0000"/>
<circle cx="1131.53" cy="355.86" r="12.8" fill="#ff0000"/>
<circle cx="1174.51" cy="355.86" r="12.8" fill="#ff0000"/>
<circle cx="1217.49" cy="355.86" r="12.8" fill="#ff0000"/>
<circle cx="1260.47" cy="355.86" r="12.8" fill="#ff0000"/>
<circle cx="1303.45" cy="355.86" r="12.8" fill="#ff0000"/>
<circle cx="1346.43" cy="355.86" r="12.8" fill="#ff0000"/>
<circle cx="1389.41" cy="355.86" r="12.8" fill="#ff0000"/>
<circle cx="1432.39" cy="355.86" r="12.8" fill="#ff0000"/>
<circle cx="1475.37" cy="355.86" r="12.8" fill="#ff0000"/>
<circle cx="1518.35" cy="355.86" r="12.8" fill="#ff0000"/>
<circle cx="1561.33" cy="355.86" r="12.8" fill="#ff0000"/>
<circle cx="1604.31" cy="355.86" r="12.8" fill="#ff0000"/>
<circle cx="1647.29" cy="355.86" r="12.8" fill="#ff0000"/>
<circle cx="1690.27" cy="355.86" r="12.8" fill="#ff0000"/>
<circle cx="1733.25" cy="355.86" r="12.8" fill="#ff0000"/>
<circle cx="1110.04" cy="393.03" r="12.8" fill="#ff0000"/>
<circle cx="1153.02" cy="393.03" r="12.8" fill="#ff0000"/>
<circle cx="1196" cy="393.03" r="12.8" fill="#ff0000"/>
<circle cx="1238.98" cy="393.03" r="12.8" fill="#ff0000"/>
<circle cx="1281.96" cy="393.03" r="12.8" fill="#ff0000"/>
<circle cx="1324.94" cy="393.03" r="12.8" fill="#ff0000"/>
<circle cx="1367.92" cy="393.03" r="12.8" fill="#ff0000"/>
<circle cx="1410.9" cy="393.03" r="12.8" fill="#ff0000"/>
<circle cx="1453.88" cy="393.03" r="12.8" fill="#ff0000"/>
<circle cx="1496.86" cy="393.03" r="12.8" fill="#ff0000"/>
<circle cx="1539.84" cy="393.03" r="12.8" fill="#ff0000"/>
<circle cx="1582.82" cy="393.03" r="12.8" fill="#ff0000"/>
<circle cx="1625.8" cy="393.03" r="12.8" fill="#ff0000"/>
<circle cx="1668.78" cy="393.03" r="12.8" fill="#ff0000"/>
<circle cx="1711.76" cy="393.03" r="12.8" fill="#ff0000"/>
<circle cx="1131.53" cy="430.2" r="12.8" fill="#ff0000"/>
<circle cx="1174.51" cy="430.2" r="12.8" fill="#ff0000"/>
<circle cx="1217.49" cy="430.2" r="12.8" fill="#ff0000"/>
<circle cx="1260.47" cy="430.2" r="12.8" fill="#ff0000"/>
<circle cx="1303.45" cy="430.2" r="12.8" fill="#ff0000"/>
<circle cx="1346.43" cy="430.2" r="12.8" fill="#ff0000"/>
<circle cx="1389.41" cy="430.2" r="12.8" fill="#ff0000"/>
<circle cx="1432.39" cy="430.2" r="12.8" fill="#ff0000"/>
<circle cx="1475.37" cy="430.2" r="12.8" fill="#ff0000"/>
<circle cx="1518.35" cy="430.2" r="12.8" fill="#ff0000"/>
<circle cx="1561.33" cy="430.2" r="12.8" fill="#ff0000"/>
<circle cx="1604.31" cy="430.2" r="12.8" fill="#ff0000"/>
<circle cx="1647.29" cy="430.2" r="12.8" fill="#ff0000"/>
<circle cx="1690.27" cy="430.2" r="12.8" fill="#ff0000"/>
<circle cx="1153.02" cy="467.37" r="12.8" fill="#ff0000"/>
<circle cx="1196" cy="467.37" r="12.8" fill="#ff0000"/>
<circle cx="1238.98" cy="467.37" r="12.8" fill="#ff0000"/>
<circle cx="1281.96" cy="467.37" r="12.8" fill="#ff0000"/>
<circle cx="1324.94" cy="467.37" r="12.8" fill="#ff0000"/>
<circle cx="1367.92" cy="467.37" r="12.8" fill="#ff0000"/>
<circle cx="1410.9" cy="467.37" r="12.8" fill="#ff0000"/>
<circle cx="1453.88" cy="467.37" r="12.8" fill="#ff0000"/>
<circle cx="1496.86" cy="467.37" r="12.8" fill="#ff0000"/>
<circle cx="1539.84" cy="467.37" r="12.8" fill="#ff0000"/>
<circle cx="1582.82" cy="467.37" r="12.8" fill="#ff0000"/>
<circle cx="1625.8" cy="467.37" r="12.8" fill="#ff0000"/>
<circle cx="1668.78" cy="467.37" r="12.8" fill="#ff0000"/>
<circle cx="1174.51" cy="504.54" r="12.8" fill="#ff0000"/>
<circle cx="1217.49" cy="504.54" r="12.8" fill="#ff0000"/>
<circle cx="1260.47" cy="504.54" r="12.8" fill="#ff0000"/>
<circle cx="1303.45" cy="504.54" r="12.8" fill="#ff0000"/>
<circle cx="1346.43" cy="504.54" r="12.8" fill="#ff0000"/>
<circle cx="1389.41" cy="504.54" r="12.8" fill="#ff0000"/>
<circle cx="1432.39" cy="504.54" r="12.8" fill="#ff0000"/>
<circle cx="1475.37" cy="504.54" r="12.8" fill="#ff0000"/>
<circle cx="1518.35" cy="504.54" r="12.8" fill="#ff0000"/>
<circle cx="1561.33" cy="504.54" r="12.8" fill="#ff0000"/>
<circle cx="1604.31" cy="504.54" r="12.8" fill="#ff0000"/>
<circle cx="1647.29" cy="504.54" r="12.8" fill="#ff0000"/>
<circle cx="1196" cy="541.71" r="12.8" fill="#ff0000"/>
<circle cx="1238.98" cy="541.71" r="12.8" fill="#ff0000"/>
<circle cx="1281.96" cy="541.71" r="12.8" fill="#ff0000"/>
<circle cx="1324.94" cy="541.71" r="12.8" fill="#ff0000"/>
<circle cx="1367.92" cy="541.71" r="12.8" fill="#ff0000"/>
<circle cx="1410.9" cy="541.71" r="12.8" fill="#ff0000"/>
<circle cx="1453.88" cy="541.71" r="12.8" fill="#ff0000"/>
<circle cx="1496.86" cy="541.71" r="12.8" fill="#ff0000"/>
<circle cx="1539.84" cy="541.71" r="12.8" fill="#ff0000"/>
<circle cx="1582.82" cy="541.71" r="12.8" fill="#ff0000"/>
<circle cx="1625.8" cy="541.71" r="12.8" fill="#ff0000"/>
<circle cx="1217.49" cy="578.88" r="12.8" fill="#ff0000"/>
<circle cx="1260.47" cy="578.88" r="12.8" fill="#ff0000"/>
<circle cx="1303.45" cy="578.88" r="12.8" fill="#ff0000"/>
<circle cx="1346.43" cy="578.88" r="12.8" fill="#ff0000"/>
<circle cx="1389.41" cy="578.88" r="12.8" fill="#ff0000"/>
<circle cx="1432.39" cy="578.88" r="12.8" fill="#ff0000"/>
<circle cx="1475.37" cy="578.88" r="12.8" fill="#ff0000"/>
<circle cx="1518.35" cy="578.88" r="12.8" fill="#ff0000"/>
<circle cx="1561.33" cy="578.88" r="12.8" fill="#ff0000"/>
<circle cx="1604.31" cy="578.88" r="12.8" fill="#ff0000"/>
<circle cx="1238.98" cy="616.05" r="12.8" fill="#ff0000"/>
<circle cx="1281.96" cy="616.05" r="12.8" fill="#ff0000"/>
<circle cx="1324.94" cy="616.05" r="12.8" fill="#ff0000"/>
<circle cx="1367.92" cy="616.05" r="12.8" fill="#ff0000"/>
<circle cx="1410.9" cy="616.05" r="12.8" fill="#ff0000"/>
<circle cx="1453.88" cy="616.05" r="12.8" fill="#ff0000"/>
<circle cx="1496.86" cy="616.05" r="12.8" fill="#ff0000"/>
<circle cx="1539.84" cy="616.05" r="12.8" fill="#ff0000"/>
<circle cx="1582.82" cy="616.05" r="12.8" fill="#ff0000"/>
<rect x="1060.5" y="37" width="695.1" height="618.8" stroke="#1a1a1a" stroke-width="2.8" fill="none"/>
<path d="M1149.62 655.8V637.3M1149.62 37V55.5M1238.73 655.8V617.8M1238.73 37V75M1327.85 655.8V637.3M1327.85 37V55.5M1416.96 655.8V617.8M1416.96 37V75M1506.08 655.8V637.3M1506.08 37V55.5M1595.19 655.8V617.8M1595.19 37V75M1684.31 655.8V637.3M1684.31 37V55.5" stroke="#1a1a1a" stroke-width="2.2"/>
<path d="M1060.5 567.4H1079M1755.6 567.4H1737.1M1060.5 479H1098.5M1755.6 479H1717.6M1060.5 390.6H1079M1755.6 390.6H1737.1M1060.5 302.2H1098.5M1755.6 302.2H1717.6M1060.5 213.8H1079M1755.6 213.8H1737.1M1060.5 125.4H1098.5M1755.6 125.4H1717.6" stroke="#1a1a1a" stroke-width="2.2"/>
<text transform="translate(1062 713.5)" font-size="52.5" text-anchor="middle" font-family="'Liberation Sans', Arial, Helvetica, sans-serif" stroke="#fff" stroke-width="0.8" >0</text>
<text transform="translate(1240.23 713.5)" font-size="52.5" text-anchor="middle" font-family="'Liberation Sans', Arial, Helvetica, sans-serif" stroke="#fff" stroke-width="0.8" ><tspan font-family="NanumGothic, 'Liberation Sans', sans-serif" letter-spacing="-2.62" stroke="#000" stroke-width="0.7">1</tspan>0</text>
<text transform="translate(1418.46 713.5)" font-size="52.5" text-anchor="middle" font-family="'Liberation Sans', Arial, Helvetica, sans-serif" stroke="#fff" stroke-width="0.8" >20</text>
<text transform="translate(1596.69 713.5)" font-size="52.5" text-anchor="middle" font-family="'Liberation Sans', Arial, Helvetica, sans-serif" stroke="#fff" stroke-width="0.8" >30</text>
<text transform="translate(1042.8 675.6)" font-size="52.5" text-anchor="end" font-family="'Liberation Sans', Arial, Helvetica, sans-serif" stroke="#fff" stroke-width="0.8" >0</text>
<text transform="translate(1042.8 498.8)" font-size="52.5" text-anchor="end" font-family="'Liberation Sans', Arial, Helvetica, sans-serif" stroke="#fff" stroke-width="0.8" ><tspan font-family="NanumGothic, 'Liberation Sans', sans-serif" letter-spacing="-2.62" stroke="#000" stroke-width="0.7">1</tspan>0</text>
<text transform="translate(1042.8 322)" font-size="52.5" text-anchor="end" font-family="'Liberation Sans', Arial, Helvetica, sans-serif" stroke="#fff" stroke-width="0.8" >20</text>
<text transform="translate(1042.8 145.2)" font-size="52.5" text-anchor="end" font-family="'Liberation Sans', Arial, Helvetica, sans-serif" stroke="#fff" stroke-width="0.8" >30</text>
<text transform="translate(1362.5 782.7)" font-size="52" text-anchor="start" font-family="'Liberation Sans', Arial, Helvetica, sans-serif" stroke="#fff" stroke-width="0.8" >x(Å)</text>
<text transform="translate(954.4 391) rotate(-90)" font-size="52" text-anchor="start" font-family="'Liberation Sans', Arial, Helvetica, sans-serif" stroke="#fff" stroke-width="0.8" >y(Å)</text>
<rect x="234.3" y="1082" width="11.6" height="11.2" fill="#008b00"/>
<circle cx="261.17" cy="1087.6" r="6.5" fill="#008b00"/>
<circle cx="282.24" cy="1087.6" r="6.5" fill="#008b00"/>
<circle cx="303.31" cy="1077.16" r="6.5" fill="#008b00"/>
<circle cx="324.38" cy="1077.16" r="6.5" fill="#008b00"/>
<rect x="339.64" y="1066.98" width="11.6" height="11.2" fill="#008b00"/>
<circle cx="366.51" cy="1072.58" r="6.5" fill="#008b00"/>
<circle cx="387.58" cy="1058.33" r="6.5" fill="#008b00"/>
<rect x="402.85" y="1050.69" width="11.6" height="11.2" fill="#008b00"/>
<circle cx="429.72" cy="1031.86" r="6.5" fill="#008b00"/>
<circle cx="450.79" cy="1031.86" r="6.5" fill="#008b00"/>
<circle cx="471.86" cy="960.6" r="6.5" fill="#008b00"/>
<circle cx="492.93" cy="960.6" r="6.5" fill="#008b00"/>
<circle cx="514" cy="960.6" r="6.5" fill="#008b00"/>
<circle cx="535.07" cy="960.6" r="6.5" fill="#008b00"/>
<circle cx="556.13" cy="960.6" r="6.5" fill="#008b00"/>
<circle cx="577.2" cy="960.6" r="6.5" fill="#008b00"/>
<circle cx="598.27" cy="960.6" r="6.5" fill="#008b00"/>
<circle cx="619.34" cy="889.34" r="6.5" fill="#008b00"/>
<circle cx="640.41" cy="889.34" r="6.5" fill="#008b00"/>
<circle cx="661.48" cy="864.09" r="6.5" fill="#008b00"/>
<circle cx="682.55" cy="861.85" r="6.5" fill="#008b00"/>
<circle cx="703.62" cy="848.62" r="6.5" fill="#008b00"/>
<circle cx="724.69" cy="848.62" r="6.5" fill="#008b00"/>
<rect x="739.96" y="837.93" width="11.6" height="11.2" fill="#008b00"/>
<circle cx="766.82" cy="843.53" r="6.5" fill="#008b00"/>
<circle cx="787.89" cy="832.84" r="6.5" fill="#008b00"/>
<circle cx="808.96" cy="832.84" r="6.5" fill="#008b00"/>
<circle cx="830.03" cy="833.35" r="6.5" fill="#008b00"/>
<rect x="845.3" y="819.61" width="11.6" height="11.2" fill="#008b00"/>
<rect x="232.3" y="1295.15" width="15.6" height="15.6" fill="#008b00"/>
<rect x="253.37" y="1295.15" width="15.6" height="15.6" fill="#008b00"/>
<rect x="274.44" y="1295.15" width="15.6" height="15.6" fill="#008b00"/>
<rect x="295.51" y="1295.15" width="15.6" height="15.6" fill="#008b00"/>
<rect x="316.58" y="1295.15" width="15.6" height="15.6" fill="#008b00"/>
<rect x="337.64" y="1295.15" width="15.6" height="15.6" fill="#008b00"/>
<rect x="358.71" y="1295.15" width="15.6" height="15.6" fill="#008b00"/>
<rect x="379.78" y="1295.15" width="15.6" height="15.6" fill="#008b00"/>
<rect x="400.85" y="1295.15" width="15.6" height="15.6" fill="#008b00"/>
<rect x="421.92" y="1295.15" width="15.6" height="15.6" fill="#008b00"/>
<rect x="442.99" y="1295.15" width="15.6" height="15.6" fill="#008b00"/>
<rect x="464.06" y="1104.4" width="15.6" height="15.6" fill="#008b00"/>
<rect x="485.13" y="1104.4" width="15.6" height="15.6" fill="#008b00"/>
<rect x="506.2" y="1104.4" width="15.6" height="15.6" fill="#008b00"/>
<rect x="527.27" y="1104.4" width="15.6" height="15.6" fill="#008b00"/>
<rect x="548.33" y="1104.4" width="15.6" height="15.6" fill="#008b00"/>
<rect x="569.4" y="1104.4" width="15.6" height="15.6" fill="#008b00"/>
<rect x="590.47" y="1104.4" width="15.6" height="15.6" fill="#008b00"/>
<rect x="611.54" y="1295.15" width="15.6" height="15.6" fill="#008b00"/>
<rect x="632.61" y="1295.15" width="15.6" height="15.6" fill="#008b00"/>
<rect x="653.68" y="1295.15" width="15.6" height="15.6" fill="#008b00"/>
<rect x="674.75" y="1295.15" width="15.6" height="15.6" fill="#008b00"/>
<rect x="695.82" y="1295.15" width="15.6" height="15.6" fill="#008b00"/>
<rect x="716.89" y="1295.15" width="15.6" height="15.6" fill="#008b00"/>
<rect x="737.96" y="1295.15" width="15.6" height="15.6" fill="#008b00"/>
<rect x="759.02" y="1295.15" width="15.6" height="15.6" fill="#008b00"/>
<rect x="780.09" y="1295.15" width="15.6" height="15.6" fill="#008b00"/>
<rect x="801.16" y="1295.15" width="15.6" height="15.6" fill="#008b00"/>
<rect x="822.23" y="1295.15" width="15.6" height="15.6" fill="#008b00"/>
<rect x="843.3" y="1295.15" width="15.6" height="15.6" fill="#008b00"/>
<polyline points="240.1,1447.92 261.17,1446.01 282.24,1461.65 303.31,1410.15 324.38,1410.15 345.44,1403.67 366.51,1403.67 387.58,1421.6 408.65,1414.73 429.72,1389.93 450.79,1389.93 471.86,1141 492.93,1216.35 514,1253.74 535.07,1190.03 556.13,1253.74 577.2,1216.35 598.27,1141 619.34,1389.93 640.41,1389.93 661.48,1415.11 682.55,1421.6 703.62,1403.67 724.69,1403.67 745.76,1409.77 766.82,1409.77 787.89,1448.68 808.96,1446.39 830.03,1461.65 851.1,1412.82" fill="none" stroke="#0000ff" stroke-width="3"/>
<circle cx="240.1" cy="1447.92" r="14.4" fill="#0000ff"/>
<circle cx="261.17" cy="1446.01" r="14.4" fill="#0000ff"/>
<circle cx="282.24" cy="1461.65" r="14.4" fill="#0000ff"/>
<circle cx="303.31" cy="1410.15" r="14.4" fill="#0000ff"/>
<circle cx="324.38" cy="1410.15" r="14.4" fill="#0000ff"/>
<circle cx="345.44" cy="1403.67" r="14.4" fill="#0000ff"/>
<circle cx="366.51" cy="1403.67" r="14.4" fill="#0000ff"/>
<circle cx="387.58" cy="1421.6" r="14.4" fill="#0000ff"/>
<circle cx="408.65" cy="1414.73" r="14.4" fill="#0000ff"/>
<circle cx="429.72" cy="1389.93" r="14.4" fill="#0000ff"/>
<circle cx="450.79" cy="1389.93" r="14.4" fill="#0000ff"/>
<circle cx="471.86" cy="1141" r="14.4" fill="#0000ff"/>
<circle cx="492.93" cy="1216.35" r="14.4" fill="#0000ff"/>
<circle cx="514" cy="1253.74" r="14.4" fill="#0000ff"/>
<circle cx="535.07" cy="1190.03" r="14.4" fill="#0000ff"/>
<circle cx="556.13" cy="1253.74" r="14.4" fill="#0000ff"/>
<circle cx="577.2" cy="1216.35" r="14.4" fill="#0000ff"/>
<circle cx="598.27" cy="1141" r="14.4" fill="#0000ff"/>
<circle cx="619.34" cy="1389.93" r="14.4" fill="#0000ff"/>
<circle cx="640.41" cy="1389.93" r="14.4" fill="#0000ff"/>
<circle cx="661.48" cy="1415.11" r="14.4" fill="#0000ff"/>
<circle cx="682.55" cy="1421.6" r="14.4" fill="#0000ff"/>
<circle cx="703.62" cy="1403.67" r="14.4" fill="#0000ff"/>
<circle cx="724.69" cy="1403.67" r="14.4" fill="#0000ff"/>
<circle cx="745.76" cy="1409.77" r="14.4" fill="#0000ff"/>
<circle cx="766.82" cy="1409.77" r="14.4" fill="#0000ff"/>
<circle cx="787.89" cy="1448.68" r="14.4" fill="#0000ff"/>
<circle cx="808.96" cy="1446.39" r="14.4" fill="#0000ff"/>
<circle cx="830.03" cy="1461.65" r="14.4" fill="#0000ff"/>
<circle cx="851.1" cy="1412.82" r="14.4" fill="#0000ff"/>
<polyline points="240.1,1456.69 261.17,1471.19 282.24,1440.29 303.31,1489.88 324.38,1489.88 345.44,1454.41 366.51,1454.41 387.58,1493.7 408.65,1481.49 429.72,1493.7 450.79,1493.7 471.86,1493.7 492.93,1493.7 514,1493.7 535.07,1493.7 556.13,1493.7 577.2,1493.7 598.27,1493.7 619.34,1493.7 640.41,1493.7 661.48,1481.87 682.55,1493.7 703.62,1455.17 724.69,1455.17 745.76,1489.12 766.82,1489.88 787.89,1457.08 808.96,1471.95 830.03,1441.43 851.1,1492.17" fill="none" stroke="#ff0000" stroke-width="3"/>
<circle cx="240.1" cy="1456.69" r="12.6" fill="#ff0000"/>
<circle cx="261.17" cy="1471.19" r="12.6" fill="#ff0000"/>
<circle cx="282.24" cy="1440.29" r="12.6" fill="#ff0000"/>
<circle cx="303.31" cy="1489.88" r="12.6" fill="#ff0000"/>
<circle cx="324.38" cy="1489.88" r="12.6" fill="#ff0000"/>
<circle cx="345.44" cy="1454.41" r="12.6" fill="#ff0000"/>
<circle cx="366.51" cy="1454.41" r="12.6" fill="#ff0000"/>
<circle cx="387.58" cy="1493.7" r="12.6" fill="#ff0000"/>
<circle cx="408.65" cy="1481.49" r="12.6" fill="#ff0000"/>
<circle cx="429.72" cy="1493.7" r="12.6" fill="#ff0000"/>
<circle cx="450.79" cy="1493.7" r="12.6" fill="#ff0000"/>
<circle cx="471.86" cy="1493.7" r="12.6" fill="#ff0000"/>
<circle cx="492.93" cy="1493.7" r="12.6" fill="#ff0000"/>
<circle cx="514" cy="1493.7" r="12.6" fill="#ff0000"/>
<circle cx="535.07" cy="1493.7" r="12.6" fill="#ff0000"/>
<circle cx="556.13" cy="1493.7" r="12.6" fill="#ff0000"/>
<circle cx="577.2" cy="1493.7" r="12.6" fill="#ff0000"/>
<circle cx="598.27" cy="1493.7" r="12.6" fill="#ff0000"/>
<circle cx="619.34" cy="1493.7" r="12.6" fill="#ff0000"/>
<circle cx="640.41" cy="1493.7" r="12.6" fill="#ff0000"/>
<circle cx="661.48" cy="1481.87" r="12.6" fill="#ff0000"/>
<circle cx="682.55" cy="1493.7" r="12.6" fill="#ff0000"/>
<circle cx="703.62" cy="1455.17" r="12.6" fill="#ff0000"/>
<circle cx="724.69" cy="1455.17" r="12.6" fill="#ff0000"/>
<circle cx="745.76" cy="1489.12" r="12.6" fill="#ff0000"/>
<circle cx="766.82" cy="1489.88" r="12.6" fill="#ff0000"/>
<circle cx="787.89" cy="1457.08" r="12.6" fill="#ff0000"/>
<circle cx="808.96" cy="1471.95" r="12.6" fill="#ff0000"/>
<circle cx="830.03" cy="1441.43" r="12.6" fill="#ff0000"/>
<circle cx="851.1" cy="1492.17" r="12.6" fill="#ff0000"/>
<rect x="240.1" y="807.3" width="611" height="687.7" stroke="#1a1a1a" stroke-width="2.8" fill="none"/>
<path d="M240.1 1112.2H851.1" stroke="#1a1a1a" stroke-width="2.4"/>
<path d="M345.44 1112.2V1074.2M345.44 807.3V845.3M450.79 1112.2V1093.7M450.79 807.3V825.8M556.13 1112.2V1074.2M556.13 807.3V845.3M661.48 1112.2V1093.7M661.48 807.3V825.8M766.82 1112.2V1074.2M766.82 807.3V845.3" stroke="#1a1a1a" stroke-width="2.2"/>
<path d="M345.44 1495V1457M345.44 1112.2V1150.2M450.79 1495V1476.5M450.79 1112.2V1130.7M556.13 1495V1457M556.13 1112.2V1150.2M661.48 1495V1476.5M661.48 1112.2V1130.7M766.82 1495V1457M766.82 1112.2V1150.2" stroke="#1a1a1a" stroke-width="2.2"/>
<path d="M240.1 1087.85H258.6M851.1 1087.85H832.6M240.1 1062.4H278.1M851.1 1062.4H813.1M240.1 1036.95H258.6M851.1 1036.95H832.6M240.1 1011.5H258.6M851.1 1011.5H832.6M240.1 986.05H258.6M851.1 986.05H832.6M240.1 960.6H278.1M851.1 960.6H813.1M240.1 935.15H258.6M851.1 935.15H832.6M240.1 909.7H258.6M851.1 909.7H832.6M240.1 884.25H258.6M851.1 884.25H832.6M240.1 858.8H278.1M851.1 858.8H813.1M240.1 833.35H258.6M851.1 833.35H832.6" stroke="#1a1a1a" stroke-width="2.2"/>
<path d="M240.1 1455.55H258.6M851.1 1455.55H832.6M240.1 1417.4H278.1M851.1 1417.4H813.1M240.1 1379.25H258.6M851.1 1379.25H832.6M240.1 1341.1H278.1M851.1 1341.1H813.1M240.1 1302.95H258.6M851.1 1302.95H832.6M240.1 1264.8H278.1M851.1 1264.8H813.1M240.1 1226.65H258.6M851.1 1226.65H832.6M240.1 1188.5H278.1M851.1 1188.5H813.1M240.1 1150.35H258.6M851.1 1150.35H832.6" stroke="#1a1a1a" stroke-width="2.2"/>
<rect x="269.5" y="1112.2" width="177.4" height="156.4" fill="#fff" stroke="#1a1a1a" stroke-width="2.4"/>
<path d="M301.5 1145.9H340" stroke="#0000ff" stroke-width="4"/>
<circle cx="301.5" cy="1145.9" r="14" fill="#0000ff"/><circle cx="340" cy="1145.9" r="14" fill="#0000ff"/>
<path d="M301.5 1190.7H340" stroke="#ff0000" stroke-width="4"/>
<circle cx="301" cy="1190.7" r="12.6" fill="#ff0000"/><circle cx="339" cy="1190.7" r="12.6" fill="#ff0000"/>
<rect x="312.8" y="1228" width="16.6" height="16.4" fill="#008b00"/>
<text transform="translate(369 1158)" font-size="36" text-anchor="start" font-family="'Liberation Sans', Arial, Helvetica, sans-serif" stroke="#fff" stroke-width="0.8" >A</text>
<text transform="translate(371.2 1202.4)" font-size="36" text-anchor="start" font-family="'Liberation Sans', Arial, Helvetica, sans-serif" stroke="#fff" stroke-width="0.8" >B</text>
<text transform="translate(369 1248.5)" font-size="36" text-anchor="start" font-family="'Liberation Sans', Arial, Helvetica, sans-serif" stroke="#fff" stroke-width="0.8" >A/B</text>
<text transform="translate(346.14 1550.5)" font-size="52.5" text-anchor="middle" font-family="'Liberation Sans', Arial, Helvetica, sans-serif" stroke="#fff" stroke-width="0.8" >40</text>
<text transform="translate(556.83 1550.5)" font-size="52.5" text-anchor="middle" font-family="'Liberation Sans', Arial, Helvetica, sans-serif" stroke="#fff" stroke-width="0.8" >50</text>
<text transform="translate(767.52 1550.5)" font-size="52.5" text-anchor="middle" font-family="'Liberation Sans', Arial, Helvetica, sans-serif" stroke="#fff" stroke-width="0.8" >60</text>
<text transform="translate(223 878.6)" font-size="52.5" text-anchor="end" font-family="'Liberation Sans', Arial, Helvetica, sans-serif" stroke="#fff" stroke-width="0.8" >2</text>
<text transform="translate(223 980.4)" font-size="52.5" text-anchor="end" font-family="'Liberation Sans', Arial, Helvetica, sans-serif" stroke="#fff" stroke-width="0.8" >0</text>
<text transform="translate(223 1082.2)" font-size="52.5" text-anchor="end" font-family="'Liberation Sans', Arial, Helvetica, sans-serif" stroke="#fff" stroke-width="0.8" >-2</text>
<text transform="translate(223 1513.5)" font-size="52.5" text-anchor="end" font-family="'Liberation Sans', Arial, Helvetica, sans-serif" stroke="#fff" stroke-width="0.8" >0</text>
<text transform="translate(223 1437.2)" font-size="52.5" text-anchor="end" font-family="'Liberation Sans', Arial, Helvetica, sans-serif" stroke="#fff" stroke-width="0.8" >0.2</text>
<text transform="translate(223 1360.9)" font-size="52.5" text-anchor="end" font-family="'Liberation Sans', Arial, Helvetica, sans-serif" stroke="#fff" stroke-width="0.8" >0.4</text>
<text transform="translate(223 1284.6)" font-size="52.5" text-anchor="end" font-family="'Liberation Sans', Arial, Helvetica, sans-serif" stroke="#fff" stroke-width="0.8" >0.6</text>
<text transform="translate(223 1208.3)" font-size="52.5" text-anchor="end" font-family="'Liberation Sans', Arial, Helvetica, sans-serif" stroke="#fff" stroke-width="0.8" >0.8</text>
<text transform="translate(232.5 1132)" font-size="52.5" text-anchor="end" font-family="'Liberation Sans', Arial, Helvetica, sans-serif" stroke="#fff" stroke-width="0.8" ><tspan font-family="NanumGothic, 'Liberation Sans', sans-serif" letter-spacing="-2.62" stroke="#000" stroke-width="0.7">1</tspan></text>
<text transform="translate(548 1614.3) scale(1.07 1)" font-size="76" text-anchor="middle" font-family="'Liberation Sans', Arial, Helvetica, sans-serif" stroke="#fff" stroke-width="0.8" >n</text>
<text transform="translate(117.1 1391) rotate(-90)" font-size="54" text-anchor="start" font-family="'Liberation Sans', Arial, Helvetica, sans-serif" stroke="#fff" stroke-width="0.8" >%Edge</text>
<text transform="translate(129.4 1070.7) rotate(-90)" font-size="73" text-anchor="start" font-family="'Liberation Sans', Arial, Helvetica, sans-serif" stroke="#fff" stroke-width="0.8">E<tspan font-size="54" x="45.3" dy="27.4">n</tspan><tspan x="93.7" dy="-27.4">(</tspan><tspan x="115.2">e</tspan><tspan x="159">V</tspan><tspan x="203.7">)</tspan></text>
<circle cx="1062.3" cy="1048.4" r="6.5" fill="#008b00"/>
<circle cx="1077.95" cy="1048.4" r="6.5" fill="#008b00"/>
<circle cx="1093.59" cy="1048.4" r="6.5" fill="#008b00"/>
<circle cx="1109.24" cy="1041.79" r="6.5" fill="#008b00"/>
<circle cx="1124.88" cy="1041.79" r="6.5" fill="#008b00"/>
<circle cx="1140.53" cy="1039.75" r="6.5" fill="#008b00"/>
<circle cx="1156.17" cy="1039.75" r="6.5" fill="#008b00"/>
<circle cx="1171.82" cy="1027.79" r="6.5" fill="#008b00"/>
<rect x="1181.66" y="1022.19" width="11.6" height="11.2" fill="#008b00"/>
<rect x="1197.31" y="1022.19" width="11.6" height="11.2" fill="#008b00"/>
<circle cx="1218.75" cy="1022.95" r="6.5" fill="#008b00"/>
<rect x="1228.6" y="1017.35" width="11.6" height="11.2" fill="#008b00"/>
<rect x="1244.25" y="1005.65" width="11.6" height="11.2" fill="#008b00"/>
<rect x="1259.89" y="1005.65" width="11.6" height="11.2" fill="#008b00"/>
<circle cx="1281.34" cy="1006.16" r="6.5" fill="#008b00"/>
<rect x="1291.18" y="990.63" width="11.6" height="11.2" fill="#008b00"/>
<circle cx="1312.63" cy="996.23" r="6.5" fill="#008b00"/>
<circle cx="1328.27" cy="985.29" r="6.5" fill="#008b00"/>
<circle cx="1343.92" cy="980.09" r="6.5" fill="#008b00"/>
<circle cx="1359.56" cy="980.09" r="6.5" fill="#008b00"/>
<circle cx="1375.21" cy="968.13" r="6.5" fill="#008b00"/>
<circle cx="1390.85" cy="966.96" r="6.5" fill="#008b00"/>
<circle cx="1406.5" cy="966.96" r="6.5" fill="#008b00"/>
<circle cx="1422.15" cy="954.24" r="6.5" fill="#008b00"/>
<circle cx="1437.79" cy="954.24" r="6.5" fill="#008b00"/>
<circle cx="1453.44" cy="953.07" r="6.5" fill="#008b00"/>
<circle cx="1469.08" cy="941.11" r="6.5" fill="#008b00"/>
<circle cx="1484.73" cy="941.11" r="6.5" fill="#008b00"/>
<circle cx="1500.37" cy="935.91" r="6.5" fill="#008b00"/>
<circle cx="1516.02" cy="924.97" r="6.5" fill="#008b00"/>
<circle cx="1531.66" cy="924.97" r="6.5" fill="#008b00"/>
<circle cx="1547.31" cy="915.04" r="6.5" fill="#008b00"/>
<circle cx="1562.95" cy="909.95" r="6.5" fill="#008b00"/>
<circle cx="1578.6" cy="909.95" r="6.5" fill="#008b00"/>
<circle cx="1594.25" cy="898.25" r="6.5" fill="#008b00"/>
<circle cx="1609.89" cy="898.25" r="6.5" fill="#008b00"/>
<circle cx="1625.54" cy="893.41" r="6.5" fill="#008b00"/>
<circle cx="1641.18" cy="893.41" r="6.5" fill="#008b00"/>
<circle cx="1656.83" cy="893.41" r="6.5" fill="#008b00"/>
<circle cx="1672.47" cy="881.45" r="6.5" fill="#008b00"/>
<circle cx="1688.12" cy="881.45" r="6.5" fill="#008b00"/>
<circle cx="1703.76" cy="879.41" r="6.5" fill="#008b00"/>
<circle cx="1719.41" cy="879.41" r="6.5" fill="#008b00"/>
<circle cx="1735.05" cy="872.8" r="6.5" fill="#008b00"/>
<circle cx="1750.7" cy="872.8" r="6.5" fill="#008b00"/>
<rect x="1057.6" y="1300.45" width="9.4" height="8.8" fill="#008b00"/>
<rect x="1073.25" y="1300.45" width="9.4" height="8.8" fill="#008b00"/>
<rect x="1088.89" y="1300.45" width="9.4" height="8.8" fill="#008b00"/>
<rect x="1104.54" y="1300.45" width="9.4" height="8.8" fill="#008b00"/>
<rect x="1120.18" y="1300.45" width="9.4" height="8.8" fill="#008b00"/>
<rect x="1135.83" y="1300.45" width="9.4" height="8.8" fill="#008b00"/>
<rect x="1151.47" y="1300.45" width="9.4" height="8.8" fill="#008b00"/>
<rect x="1167.12" y="1300.45" width="9.4" height="8.8" fill="#008b00"/>
<rect x="1182.76" y="1300.45" width="9.4" height="8.8" fill="#008b00"/>
<rect x="1198.41" y="1300.45" width="9.4" height="8.8" fill="#008b00"/>
<rect x="1214.05" y="1300.45" width="9.4" height="8.8" fill="#008b00"/>
<rect x="1229.7" y="1300.45" width="9.4" height="8.8" fill="#008b00"/>
<rect x="1245.35" y="1300.45" width="9.4" height="8.8" fill="#008b00"/>
<rect x="1260.99" y="1300.45" width="9.4" height="8.8" fill="#008b00"/>
<rect x="1276.64" y="1300.45" width="9.4" height="8.8" fill="#008b00"/>
<rect x="1292.28" y="1300.45" width="9.4" height="8.8" fill="#008b00"/>
<rect x="1307.93" y="1300.45" width="9.4" height="8.8" fill="#008b00"/>
<rect x="1323.57" y="1300.45" width="9.4" height="8.8" fill="#008b00"/>
<rect x="1339.22" y="1300.45" width="9.4" height="8.8" fill="#008b00"/>
<rect x="1354.86" y="1300.45" width="9.4" height="8.8" fill="#008b00"/>
<rect x="1370.51" y="1300.45" width="9.4" height="8.8" fill="#008b00"/>
<rect x="1386.15" y="1300.45" width="9.4" height="8.8" fill="#008b00"/>
<rect x="1401.8" y="1300.45" width="9.4" height="8.8" fill="#008b00"/>
<rect x="1417.45" y="1300.45" width="9.4" height="8.8" fill="#008b00"/>
<rect x="1433.09" y="1300.45" width="9.4" height="8.8" fill="#008b00"/>
<rect x="1448.74" y="1300.45" width="9.4" height="8.8" fill="#008b00"/>
<rect x="1464.38" y="1300.45" width="9.4" height="8.8" fill="#008b00"/>
<rect x="1480.03" y="1300.45" width="9.4" height="8.8" fill="#008b00"/>
<rect x="1495.67" y="1300.45" width="9.4" height="8.8" fill="#008b00"/>
<rect x="1511.32" y="1300.45" width="9.4" height="8.8" fill="#008b00"/>
<rect x="1526.96" y="1300.45" width="9.4" height="8.8" fill="#008b00"/>
<rect x="1542.61" y="1300.45" width="9.4" height="8.8" fill="#008b00"/>
<rect x="1558.25" y="1300.45" width="9.4" height="8.8" fill="#008b00"/>
<rect x="1573.9" y="1300.45" width="9.4" height="8.8" fill="#008b00"/>
<rect x="1589.55" y="1300.45" width="9.4" height="8.8" fill="#008b00"/>
<rect x="1605.19" y="1300.45" width="9.4" height="8.8" fill="#008b00"/>
<rect x="1620.84" y="1300.45" width="9.4" height="8.8" fill="#008b00"/>
<rect x="1636.48" y="1300.45" width="9.4" height="8.8" fill="#008b00"/>
<rect x="1652.13" y="1300.45" width="9.4" height="8.8" fill="#008b00"/>
<rect x="1667.77" y="1300.45" width="9.4" height="8.8" fill="#008b00"/>
<rect x="1683.42" y="1300.45" width="9.4" height="8.8" fill="#008b00"/>
<rect x="1699.06" y="1300.45" width="9.4" height="8.8" fill="#008b00"/>
<rect x="1714.71" y="1300.45" width="9.4" height="8.8" fill="#008b00"/>
<rect x="1730.35" y="1300.45" width="9.4" height="8.8" fill="#008b00"/>
<rect x="1746" y="1300.45" width="9.4" height="8.8" fill="#008b00"/>
<circle cx="1062.3" cy="1410.53" r="12.5" fill="#0000ff"/>
<circle cx="1077.95" cy="1417.78" r="12.5" fill="#0000ff"/>
<circle cx="1093.59" cy="1417.78" r="12.5" fill="#0000ff"/>
<circle cx="1109.24" cy="1460.51" r="12.5" fill="#0000ff"/>
<circle cx="1124.88" cy="1460.51" r="12.5" fill="#0000ff"/>
<circle cx="1140.53" cy="1447.92" r="12.5" fill="#0000ff"/>
<circle cx="1156.17" cy="1447.92" r="12.5" fill="#0000ff"/>
<circle cx="1171.82" cy="1395.27" r="12.5" fill="#0000ff"/>
<circle cx="1187.46" cy="1401" r="12.5" fill="#0000ff"/>
<circle cx="1203.11" cy="1401" r="12.5" fill="#0000ff"/>
<circle cx="1218.75" cy="1460.51" r="12.5" fill="#0000ff"/>
<circle cx="1234.4" cy="1460.51" r="12.5" fill="#0000ff"/>
<circle cx="1250.05" cy="1397.94" r="12.5" fill="#0000ff"/>
<circle cx="1265.69" cy="1397.94" r="12.5" fill="#0000ff"/>
<circle cx="1281.34" cy="1360.56" r="12.5" fill="#0000ff"/>
<circle cx="1296.98" cy="1378.11" r="12.5" fill="#0000ff"/>
<circle cx="1312.63" cy="1378.11" r="12.5" fill="#0000ff"/>
<circle cx="1328.27" cy="1293.79" r="12.5" fill="#0000ff"/>
<circle cx="1343.92" cy="1320.5" r="12.5" fill="#0000ff"/>
<circle cx="1359.56" cy="1320.5" r="12.5" fill="#0000ff"/>
<circle cx="1375.21" cy="1184.88" r="12.5" fill="#0000ff"/>
<circle cx="1390.85" cy="1221.31" r="12.5" fill="#0000ff"/>
<circle cx="1406.5" cy="1221.31" r="12.5" fill="#0000ff"/>
<circle cx="1422.15" cy="1221.31" r="12.5" fill="#0000ff"/>
<circle cx="1437.79" cy="1221.31" r="12.5" fill="#0000ff"/>
<circle cx="1453.44" cy="1184.88" r="12.5" fill="#0000ff"/>
<circle cx="1469.08" cy="1320.5" r="12.5" fill="#0000ff"/>
<circle cx="1484.73" cy="1320.5" r="12.5" fill="#0000ff"/>
<circle cx="1500.37" cy="1293.79" r="12.5" fill="#0000ff"/>
<circle cx="1516.02" cy="1378.11" r="12.5" fill="#0000ff"/>
<circle cx="1531.66" cy="1378.11" r="12.5" fill="#0000ff"/>
<circle cx="1547.31" cy="1360.56" r="12.5" fill="#0000ff"/>
<circle cx="1562.95" cy="1397.94" r="12.5" fill="#0000ff"/>
<circle cx="1578.6" cy="1397.94" r="12.5" fill="#0000ff"/>
<circle cx="1594.25" cy="1460.51" r="12.5" fill="#0000ff"/>
<circle cx="1609.89" cy="1460.51" r="12.5" fill="#0000ff"/>
<circle cx="1625.54" cy="1401" r="12.5" fill="#0000ff"/>
<circle cx="1641.18" cy="1401" r="12.5" fill="#0000ff"/>
<circle cx="1656.83" cy="1395.27" r="12.5" fill="#0000ff"/>
<circle cx="1672.47" cy="1447.92" r="12.5" fill="#0000ff"/>
<circle cx="1688.12" cy="1447.92" r="12.5" fill="#0000ff"/>
<circle cx="1703.76" cy="1460.51" r="12.5" fill="#0000ff"/>
<circle cx="1719.41" cy="1460.51" r="12.5" fill="#0000ff"/>
<circle cx="1735.05" cy="1417.78" r="12.5" fill="#0000ff"/>
<circle cx="1750.7" cy="1417.78" r="12.5" fill="#0000ff"/>
<polyline points="1062.3,1410.53 1077.95,1417.78 1093.59,1417.78 1109.24,1460.51 1124.88,1460.51 1140.53,1447.92 1156.17,1447.92 1171.82,1395.27 1187.46,1401 1203.11,1401 1218.75,1460.51 1234.4,1460.51 1250.05,1397.94 1265.69,1397.94 1281.34,1360.56 1296.98,1378.11 1312.63,1378.11 1328.27,1293.79 1343.92,1320.5 1359.56,1320.5 1375.21,1184.88 1390.85,1221.31 1406.5,1221.31 1422.15,1221.31 1437.79,1221.31 1453.44,1184.88 1469.08,1320.5 1484.73,1320.5 1500.37,1293.79 1516.02,1378.11 1531.66,1378.11 1547.31,1360.56 1562.95,1397.94 1578.6,1397.94 1594.25,1460.51 1609.89,1460.51 1625.54,1401 1641.18,1401 1656.83,1395.27 1672.47,1447.92 1688.12,1447.92 1703.76,1460.51 1719.41,1460.51 1735.05,1417.78 1750.7,1417.78" fill="none" stroke="#ff0000" stroke-width="6" stroke-linejoin="round"/>
<circle cx="1062.3" cy="1410.53" r="10" fill="#ff0000"/>
<circle cx="1077.95" cy="1417.78" r="10" fill="#ff0000"/>
<circle cx="1093.59" cy="1417.78" r="10" fill="#ff0000"/>
<circle cx="1109.24" cy="1460.51" r="10" fill="#ff0000"/>
<circle cx="1124.88" cy="1460.51" r="10" fill="#ff0000"/>
<circle cx="1140.53" cy="1447.92" r="10" fill="#ff0000"/>
<circle cx="1156.17" cy="1447.92" r="10" fill="#ff0000"/>
<circle cx="1171.82" cy="1395.27" r="10" fill="#ff0000"/>
<circle cx="1187.46" cy="1401" r="10" fill="#ff0000"/>
<circle cx="1203.11" cy="1401" r="10" fill="#ff0000"/>
<circle cx="1218.75" cy="1460.51" r="10" fill="#ff0000"/>
<circle cx="1234.4" cy="1460.51" r="10" fill="#ff0000"/>
<circle cx="1250.05" cy="1397.94" r="10" fill="#ff0000"/>
<circle cx="1265.69" cy="1397.94" r="10" fill="#ff0000"/>
<circle cx="1281.34" cy="1360.56" r="10" fill="#ff0000"/>
<circle cx="1296.98" cy="1378.11" r="10" fill="#ff0000"/>
<circle cx="1312.63" cy="1378.11" r="10" fill="#ff0000"/>
<circle cx="1328.27" cy="1293.79" r="10" fill="#ff0000"/>
<circle cx="1343.92" cy="1320.5" r="10" fill="#ff0000"/>
<circle cx="1359.56" cy="1320.5" r="10" fill="#ff0000"/>
<circle cx="1375.21" cy="1184.88" r="10" fill="#ff0000"/>
<circle cx="1390.85" cy="1221.31" r="10" fill="#ff0000"/>
<circle cx="1406.5" cy="1221.31" r="10" fill="#ff0000"/>
<circle cx="1422.15" cy="1221.31" r="10" fill="#ff0000"/>
<circle cx="1437.79" cy="1221.31" r="10" fill="#ff0000"/>
<circle cx="1453.44" cy="1184.88" r="10" fill="#ff0000"/>
<circle cx="1469.08" cy="1320.5" r="10" fill="#ff0000"/>
<circle cx="1484.73" cy="1320.5" r="10" fill="#ff0000"/>
<circle cx="1500.37" cy="1293.79" r="10" fill="#ff0000"/>
<circle cx="1516.02" cy="1378.11" r="10" fill="#ff0000"/>
<circle cx="1531.66" cy="1378.11" r="10" fill="#ff0000"/>
<circle cx="1547.31" cy="1360.56" r="10" fill="#ff0000"/>
<circle cx="1562.95" cy="1397.94" r="10" fill="#ff0000"/>
<circle cx="1578.6" cy="1397.94" r="10" fill="#ff0000"/>
<circle cx="1594.25" cy="1460.51" r="10" fill="#ff0000"/>
<circle cx="1609.89" cy="1460.51" r="10" fill="#ff0000"/>
<circle cx="1625.54" cy="1401" r="10" fill="#ff0000"/>
<circle cx="1641.18" cy="1401" r="10" fill="#ff0000"/>
<circle cx="1656.83" cy="1395.27" r="10" fill="#ff0000"/>
<circle cx="1672.47" cy="1447.92" r="10" fill="#ff0000"/>
<circle cx="1688.12" cy="1447.92" r="10" fill="#ff0000"/>
<circle cx="1703.76" cy="1460.51" r="10" fill="#ff0000"/>
<circle cx="1719.41" cy="1460.51" r="10" fill="#ff0000"/>
<circle cx="1735.05" cy="1417.78" r="10" fill="#ff0000"/>
<circle cx="1750.7" cy="1417.78" r="10" fill="#ff0000"/>
<rect x="1062.3" y="807.3" width="688.4" height="687.7" stroke="#1a1a1a" stroke-width="2.8" fill="none"/>
<path d="M1062.3 1112.2H1750.7" stroke="#1a1a1a" stroke-width="2.4"/>
<path d="M1140.53 1112.2V1093.7M1140.53 807.3V825.8M1218.75 1112.2V1074.2M1218.75 807.3V845.3M1296.98 1112.2V1093.7M1296.98 807.3V825.8M1375.21 1112.2V1074.2M1375.21 807.3V845.3M1453.44 1112.2V1093.7M1453.44 807.3V825.8M1531.66 1112.2V1074.2M1531.66 807.3V845.3M1609.89 1112.2V1093.7M1609.89 807.3V825.8M1688.12 1112.2V1074.2M1688.12 807.3V845.3" stroke="#1a1a1a" stroke-width="2.2"/>
<path d="M1140.53 1495V1476.5M1140.53 1112.2V1130.7M1218.75 1495V1457M1218.75 1112.2V1150.2M1296.98 1495V1476.5M1296.98 1112.2V1130.7M1375.21 1495V1457M1375.21 1112.2V1150.2M1453.44 1495V1476.5M1453.44 1112.2V1130.7M1531.66 1495V1457M1531.66 1112.2V1150.2M1609.89 1495V1476.5M1609.89 1112.2V1130.7M1688.12 1495V1457M1688.12 1112.2V1150.2" stroke="#1a1a1a" stroke-width="2.2"/>
<path d="M1062.3 1087.85H1080.8M1750.7 1087.85H1732.2M1062.3 1062.4H1100.3M1750.7 1062.4H1712.7M1062.3 1036.95H1080.8M1750.7 1036.95H1732.2M1062.3 1011.5H1080.8M1750.7 1011.5H1732.2M1062.3 986.05H1080.8M1750.7 986.05H1732.2M1062.3 960.6H1100.3M1750.7 960.6H1712.7M1062.3 935.15H1080.8M1750.7 935.15H1732.2M1062.3 909.7H1080.8M1750.7 909.7H1732.2M1062.3 884.25H1080.8M1750.7 884.25H1732.2M1062.3 858.8H1100.3M1750.7 858.8H1712.7M1062.3 833.35H1080.8M1750.7 833.35H1732.2" stroke="#1a1a1a" stroke-width="2.2"/>
<path d="M1062.3 1455.55H1080.8M1750.7 1455.55H1732.2M1062.3 1417.4H1100.3M1750.7 1417.4H1712.7M1062.3 1379.25H1080.8M1750.7 1379.25H1732.2M1062.3 1341.1H1100.3M1750.7 1341.1H1712.7M1062.3 1302.95H1080.8M1750.7 1302.95H1732.2M1062.3 1264.8H1100.3M1750.7 1264.8H1712.7M1062.3 1226.65H1080.8M1750.7 1226.65H1732.2M1062.3 1188.5H1100.3M1750.7 1188.5H1712.7M1062.3 1150.35H1080.8M1750.7 1150.35H1732.2" stroke="#1a1a1a" stroke-width="2.2"/>
<text transform="translate(1062.3 1550.5)" font-size="52.5" text-anchor="middle" font-family="'Liberation Sans', Arial, Helvetica, sans-serif" stroke="#fff" stroke-width="0.8" ><tspan font-family="NanumGothic, 'Liberation Sans', sans-serif" letter-spacing="-2.62" stroke="#000" stroke-width="0.7">1</tspan>70</text>
<text transform="translate(1218.75 1550.5)" font-size="52.5" text-anchor="middle" font-family="'Liberation Sans', Arial, Helvetica, sans-serif" stroke="#fff" stroke-width="0.8" ><tspan font-family="NanumGothic, 'Liberation Sans', sans-serif" letter-spacing="-2.62" stroke="#000" stroke-width="0.7">1</tspan>80</text>
<text transform="translate(1375.21 1550.5)" font-size="52.5" text-anchor="middle" font-family="'Liberation Sans', Arial, Helvetica, sans-serif" stroke="#fff" stroke-width="0.8" ><tspan font-family="NanumGothic, 'Liberation Sans', sans-serif" letter-spacing="-2.62" stroke="#000" stroke-width="0.7">1</tspan>90</text>
<text transform="translate(1531.66 1550.5)" font-size="52.5" text-anchor="middle" font-family="'Liberation Sans', Arial, Helvetica, sans-serif" stroke="#fff" stroke-width="0.8" >200</text>
<text transform="translate(1688.12 1550.5)" font-size="52.5" text-anchor="middle" font-family="'Liberation Sans', Arial, Helvetica, sans-serif" stroke="#fff" stroke-width="0.8" >2<tspan font-family="NanumGothic, 'Liberation Sans', sans-serif" letter-spacing="-2.62" stroke="#000" stroke-width="0.7">1</tspan>0</text>
<text transform="translate(1043.6 878.6)" font-size="52.5" text-anchor="end" font-family="'Liberation Sans', Arial, Helvetica, sans-serif" stroke="#fff" stroke-width="0.8" >2</text>
<text transform="translate(1043.6 980.4)" font-size="52.5" text-anchor="end" font-family="'Liberation Sans', Arial, Helvetica, sans-serif" stroke="#fff" stroke-width="0.8" >0</text>
<text transform="translate(1043.6 1082.2)" font-size="52.5" text-anchor="end" font-family="'Liberation Sans', Arial, Helvetica, sans-serif" stroke="#fff" stroke-width="0.8" >-2</text>
<text transform="translate(1043.6 1513.5)" font-size="52.5" text-anchor="end" font-family="'Liberation Sans', Arial, Helvetica, sans-serif" stroke="#fff" stroke-width="0.8" >0</text>
<text transform="translate(1043.6 1437.2)" font-size="52.5" text-anchor="end" font-family="'Liberation Sans', Arial, Helvetica, sans-serif" stroke="#fff" stroke-width="0.8" >0.2</text>
<text transform="translate(1043.6 1360.9)" font-size="52.5" text-anchor="end" font-family="'Liberation Sans', Arial, Helvetica, sans-serif" stroke="#fff" stroke-width="0.8" >0.4</text>
<text transform="translate(1043.6 1284.6)" font-size="52.5" text-anchor="end" font-family="'Liberation Sans', Arial, Helvetica, sans-serif" stroke="#fff" stroke-width="0.8" >0.6</text>
<text transform="translate(1043.6 1208.3)" font-size="52.5" text-anchor="end" font-family="'Liberation Sans', Arial, Helvetica, sans-serif" stroke="#fff" stroke-width="0.8" >0.8</text>
<text transform="translate(1053.1 1132)" font-size="52.5" text-anchor="end" font-family="'Liberation Sans', Arial, Helvetica, sans-serif" stroke="#fff" stroke-width="0.8" ><tspan font-family="NanumGothic, 'Liberation Sans', sans-serif" letter-spacing="-2.62" stroke="#000" stroke-width="0.7">1</tspan></text>
<text transform="translate(1406.8 1614.3) scale(1.07 1)" font-size="76" text-anchor="middle" font-family="'Liberation Sans', Arial, Helvetica, sans-serif" stroke="#fff" stroke-width="0.8" >n</text>
<text transform="translate(937.6 1396.8) rotate(-90)" font-size="54" text-anchor="start" font-family="'Liberation Sans', Arial, Helvetica, sans-serif" stroke="#fff" stroke-width="0.8" >% Edge</text>
<text transform="translate(949.4 1070.7) rotate(-90)" font-size="73" text-anchor="start" font-family="'Liberation Sans', Arial, Helvetica, sans-serif" stroke="#fff" stroke-width="0.8">E<tspan font-size="54" x="45.3" dy="27.4">n</tspan><tspan x="93.7" dy="-27.4">(</tspan><tspan x="115.2">e</tspan><tspan x="159">V</tspan><tspan x="203.7">)</tspan></text>
<text transform="translate(26.9 94) scale(1.03 1)" font-size="80" text-anchor="start" font-family="'Liberation Serif', 'Times New Roman', serif" font-weight="bold">(a)</text>
<text transform="translate(18 812) scale(1.04 1)" font-size="80" text-anchor="start" font-family="'Liberation Serif', 'Times New Roman', serif" font-weight="bold">(b)</text>
<text transform="translate(899.2 94.2) scale(1.04 1)" font-size="80" text-anchor="start" font-family="'Liberation Serif', 'Times New Roman', serif" font-weight="bold">(c)</text>
<text transform="translate(905.9 813.3) scale(1.04 1)" font-size="80" text-anchor="start" font-family="'Liberation Serif', 'Times New Roman', serif" font-weight="bold">(d)</text>
</svg></body></html>
